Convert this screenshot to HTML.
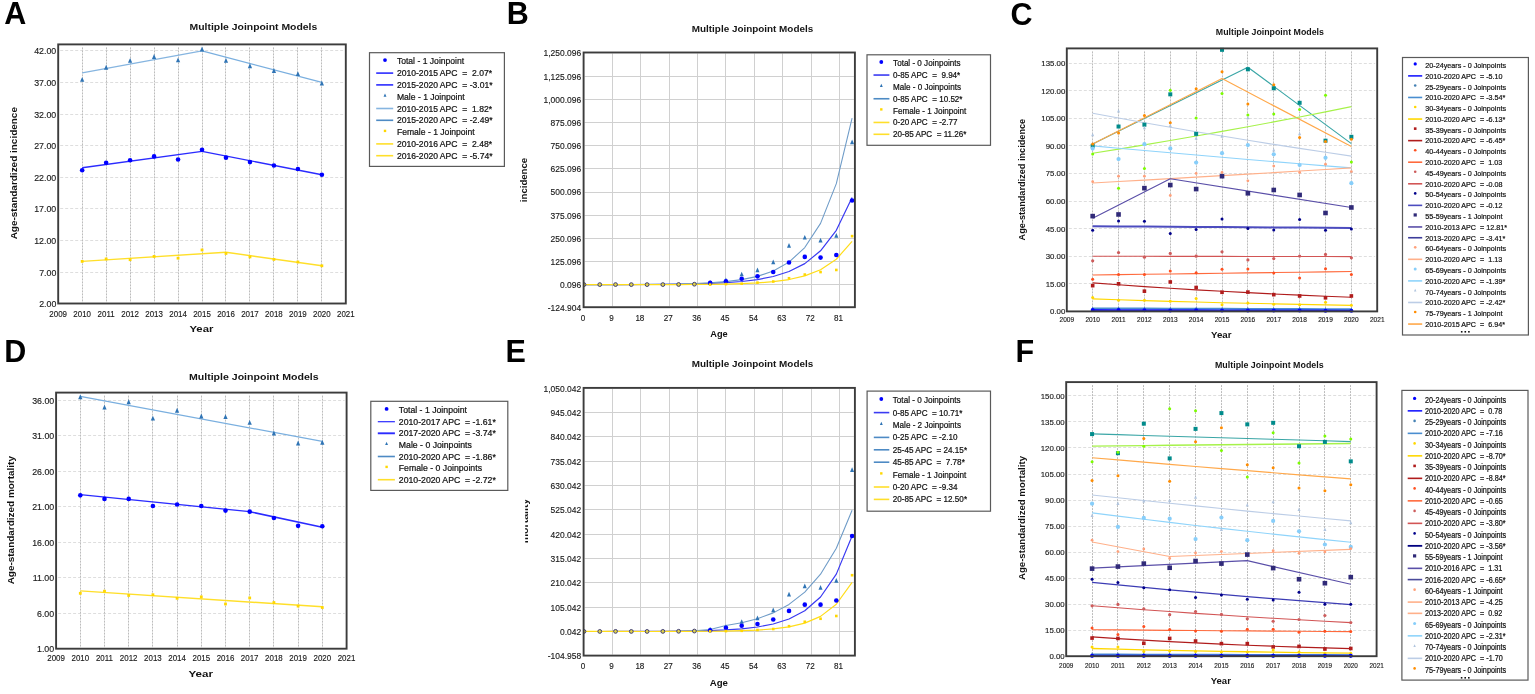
<!DOCTYPE html>
<html><head><meta charset="utf-8"><title>Multiple Joinpoint Models</title>
<style>html,body{margin:0;padding:0;background:#fff;}svg{display:block;}text{font-family:"Liberation Sans",Arial,sans-serif;}</style>
</head><body>
<svg width="1535" height="694" viewBox="0 0 1535 694" font-family="'Liberation Sans', Arial, sans-serif">
<defs>
<clipPath id="clipA"><rect x="58.20" y="40.40" width="287.60" height="267.10"/></clipPath>
<clipPath id="clipB"><rect x="583.60" y="48.50" width="271.30" height="262.70"/></clipPath>
<clipPath id="clipC"><rect x="1066.80" y="44.40" width="310.40" height="271.00"/></clipPath>
<clipPath id="clipD"><rect x="56.10" y="388.60" width="290.50" height="264.10"/></clipPath>
<clipPath id="clipE"><rect x="583.60" y="383.90" width="271.30" height="275.70"/></clipPath>
<clipPath id="clipF"><rect x="1066.20" y="378.10" width="310.40" height="282.10"/></clipPath>
<clipPath id="yclipE"><rect x="525.2" y="480" width="20" height="90"/></clipPath>
</defs>
<rect width="1535" height="694" fill="none"/>
<text x="4.20" y="24.40" font-size="30.50" font-weight="bold" text-anchor="start" fill="#000">A</text>
<text x="189.60" y="30.30" font-size="8.60" font-weight="bold" text-anchor="start" fill="#151515" textLength="127.70" lengthAdjust="spacingAndGlyphs">Multiple Joinpoint Models</text>
<line x1="60.20" y1="272.50" x2="343.80" y2="272.50" stroke="#dedede" stroke-width="1.00" stroke-dasharray="3,2"/>
<line x1="60.20" y1="240.50" x2="343.80" y2="240.50" stroke="#dedede" stroke-width="1.00" stroke-dasharray="3,2"/>
<line x1="60.20" y1="208.50" x2="343.80" y2="208.50" stroke="#dedede" stroke-width="1.00" stroke-dasharray="3,2"/>
<line x1="60.20" y1="177.50" x2="343.80" y2="177.50" stroke="#dedede" stroke-width="1.00" stroke-dasharray="3,2"/>
<line x1="60.20" y1="145.50" x2="343.80" y2="145.50" stroke="#dedede" stroke-width="1.00" stroke-dasharray="3,2"/>
<line x1="60.20" y1="114.50" x2="343.80" y2="114.50" stroke="#dedede" stroke-width="1.00" stroke-dasharray="3,2"/>
<line x1="60.20" y1="82.50" x2="343.80" y2="82.50" stroke="#dedede" stroke-width="1.00" stroke-dasharray="3,2"/>
<line x1="60.20" y1="50.50" x2="343.80" y2="50.50" stroke="#dedede" stroke-width="1.00" stroke-dasharray="3,2"/>
<line x1="82.50" y1="47.40" x2="82.50" y2="302.50" stroke="#bcbcbc" stroke-width="1.00" stroke-dasharray="2,1"/>
<line x1="106.50" y1="47.40" x2="106.50" y2="302.50" stroke="#bcbcbc" stroke-width="1.00" stroke-dasharray="2,1"/>
<line x1="130.50" y1="47.40" x2="130.50" y2="302.50" stroke="#bcbcbc" stroke-width="1.00" stroke-dasharray="2,1"/>
<line x1="154.50" y1="47.40" x2="154.50" y2="302.50" stroke="#bcbcbc" stroke-width="1.00" stroke-dasharray="2,1"/>
<line x1="178.50" y1="47.40" x2="178.50" y2="302.50" stroke="#bcbcbc" stroke-width="1.00" stroke-dasharray="2,1"/>
<line x1="202.50" y1="47.40" x2="202.50" y2="302.50" stroke="#bcbcbc" stroke-width="1.00" stroke-dasharray="2,1"/>
<line x1="225.50" y1="47.40" x2="225.50" y2="302.50" stroke="#bcbcbc" stroke-width="1.00" stroke-dasharray="2,1"/>
<line x1="249.50" y1="47.40" x2="249.50" y2="302.50" stroke="#bcbcbc" stroke-width="1.00" stroke-dasharray="2,1"/>
<line x1="273.50" y1="47.40" x2="273.50" y2="302.50" stroke="#bcbcbc" stroke-width="1.00" stroke-dasharray="2,1"/>
<line x1="297.50" y1="47.40" x2="297.50" y2="302.50" stroke="#bcbcbc" stroke-width="1.00" stroke-dasharray="2,1"/>
<line x1="321.50" y1="47.40" x2="321.50" y2="302.50" stroke="#bcbcbc" stroke-width="1.00" stroke-dasharray="2,1"/>
<g clip-path="url(#clipA)">
<polyline points="82.17,72.93 202.02,50.80" fill="none" stroke="#86b5e0" stroke-width="1.20" stroke-linejoin="round"/>
<polyline points="202.02,50.80 321.87,82.41" fill="none" stroke="#7aafdf" stroke-width="1.20" stroke-linejoin="round"/>
<polyline points="82.17,167.77 202.02,151.33" fill="none" stroke="#2b2bff" stroke-width="1.40" stroke-linejoin="round"/>
<polyline points="202.02,151.33 321.87,174.72" fill="none" stroke="#2b2bff" stroke-width="1.40" stroke-linejoin="round"/>
<polyline points="82.17,261.34 225.99,252.23" fill="none" stroke="#ffdf2a" stroke-width="1.40" stroke-linejoin="round"/>
<polyline points="225.99,252.23 321.87,265.76" fill="none" stroke="#ffdf2a" stroke-width="1.40" stroke-linejoin="round"/>
<path d="M82.17 76.88L84.30 81.76L80.05 81.76Z" fill="#2f74b5"/>
<path d="M106.14 64.87L108.27 69.75L104.02 69.75Z" fill="#2f74b5"/>
<path d="M130.11 57.92L132.24 62.79L127.99 62.79Z" fill="#2f74b5"/>
<path d="M154.08 54.12L156.20 59.00L151.95 59.00Z" fill="#2f74b5"/>
<path d="M178.05 57.47L180.18 62.35L175.93 62.35Z" fill="#2f74b5"/>
<path d="M202.02 46.54L204.14 51.41L199.89 51.41Z" fill="#2f74b5"/>
<path d="M225.99 57.92L228.12 62.79L223.87 62.79Z" fill="#2f74b5"/>
<path d="M249.96 63.29L252.08 68.17L247.83 68.17Z" fill="#2f74b5"/>
<path d="M273.93 68.03L276.06 72.91L271.81 72.91Z" fill="#2f74b5"/>
<path d="M297.90 71.19L300.02 76.07L295.77 76.07Z" fill="#2f74b5"/>
<path d="M321.87 80.68L323.99 85.55L319.74 85.55Z" fill="#2f74b5"/>
<circle cx="82.17" cy="170.30" r="2.30" fill="#0000ff"/>
<circle cx="106.14" cy="162.71" r="2.30" fill="#0000ff"/>
<circle cx="130.11" cy="160.18" r="2.30" fill="#0000ff"/>
<circle cx="154.08" cy="156.39" r="2.30" fill="#0000ff"/>
<circle cx="178.05" cy="159.55" r="2.30" fill="#0000ff"/>
<circle cx="202.02" cy="149.75" r="2.30" fill="#0000ff"/>
<circle cx="225.99" cy="157.65" r="2.30" fill="#0000ff"/>
<circle cx="249.96" cy="162.08" r="2.30" fill="#0000ff"/>
<circle cx="273.93" cy="165.55" r="2.30" fill="#0000ff"/>
<circle cx="297.90" cy="169.03" r="2.30" fill="#0000ff"/>
<circle cx="321.87" cy="174.72" r="2.30" fill="#0000ff"/>
<rect x="80.77" y="260.00" width="2.80" height="2.80" fill="#ffd700"/>
<rect x="104.74" y="257.54" width="2.80" height="2.80" fill="#ffd700"/>
<rect x="128.71" y="258.30" width="2.80" height="2.80" fill="#ffd700"/>
<rect x="152.68" y="255.01" width="2.80" height="2.80" fill="#ffd700"/>
<rect x="176.65" y="256.78" width="2.80" height="2.80" fill="#ffd700"/>
<rect x="200.62" y="248.56" width="2.80" height="2.80" fill="#ffd700"/>
<rect x="224.59" y="252.04" width="2.80" height="2.80" fill="#ffd700"/>
<rect x="248.56" y="255.51" width="2.80" height="2.80" fill="#ffd700"/>
<rect x="272.53" y="258.04" width="2.80" height="2.80" fill="#ffd700"/>
<rect x="296.50" y="260.57" width="2.80" height="2.80" fill="#ffd700"/>
<rect x="320.47" y="264.37" width="2.80" height="2.80" fill="#ffd700"/>
</g>
<rect x="58.20" y="44.40" width="287.60" height="259.10" fill="none" stroke="#3c3c3c" stroke-width="1.90"/>
<text x="56.30" y="307.23" font-size="9.80" text-anchor="end" fill="#1a1a1a" textLength="17.17" lengthAdjust="spacingAndGlyphs" stroke="#1a1a1a" stroke-width="0.15">2.00</text>
<text x="56.30" y="275.62" font-size="9.80" text-anchor="end" fill="#1a1a1a" textLength="17.17" lengthAdjust="spacingAndGlyphs" stroke="#1a1a1a" stroke-width="0.15">7.00</text>
<text x="56.30" y="244.00" font-size="9.80" text-anchor="end" fill="#1a1a1a" textLength="22.07" lengthAdjust="spacingAndGlyphs" stroke="#1a1a1a" stroke-width="0.15">12.00</text>
<text x="56.30" y="212.39" font-size="9.80" text-anchor="end" fill="#1a1a1a" textLength="22.07" lengthAdjust="spacingAndGlyphs" stroke="#1a1a1a" stroke-width="0.15">17.00</text>
<text x="56.30" y="180.78" font-size="9.80" text-anchor="end" fill="#1a1a1a" textLength="22.07" lengthAdjust="spacingAndGlyphs" stroke="#1a1a1a" stroke-width="0.15">22.00</text>
<text x="56.30" y="149.17" font-size="9.80" text-anchor="end" fill="#1a1a1a" textLength="22.07" lengthAdjust="spacingAndGlyphs" stroke="#1a1a1a" stroke-width="0.15">27.00</text>
<text x="56.30" y="117.55" font-size="9.80" text-anchor="end" fill="#1a1a1a" textLength="22.07" lengthAdjust="spacingAndGlyphs" stroke="#1a1a1a" stroke-width="0.15">32.00</text>
<text x="56.30" y="85.94" font-size="9.80" text-anchor="end" fill="#1a1a1a" textLength="22.07" lengthAdjust="spacingAndGlyphs" stroke="#1a1a1a" stroke-width="0.15">37.00</text>
<text x="56.30" y="54.33" font-size="9.80" text-anchor="end" fill="#1a1a1a" textLength="22.07" lengthAdjust="spacingAndGlyphs" stroke="#1a1a1a" stroke-width="0.15">42.00</text>
<text x="58.20" y="317.20" font-size="9.80" text-anchor="middle" fill="#1a1a1a" textLength="17.66" lengthAdjust="spacingAndGlyphs" stroke="#1a1a1a" stroke-width="0.15">2009</text>
<text x="82.17" y="317.20" font-size="9.80" text-anchor="middle" fill="#1a1a1a" textLength="17.66" lengthAdjust="spacingAndGlyphs" stroke="#1a1a1a" stroke-width="0.15">2010</text>
<text x="106.14" y="317.20" font-size="9.80" text-anchor="middle" fill="#1a1a1a" textLength="17.07" lengthAdjust="spacingAndGlyphs" stroke="#1a1a1a" stroke-width="0.15">2011</text>
<text x="130.11" y="317.20" font-size="9.80" text-anchor="middle" fill="#1a1a1a" textLength="17.66" lengthAdjust="spacingAndGlyphs" stroke="#1a1a1a" stroke-width="0.15">2012</text>
<text x="154.08" y="317.20" font-size="9.80" text-anchor="middle" fill="#1a1a1a" textLength="17.66" lengthAdjust="spacingAndGlyphs" stroke="#1a1a1a" stroke-width="0.15">2013</text>
<text x="178.05" y="317.20" font-size="9.80" text-anchor="middle" fill="#1a1a1a" textLength="17.66" lengthAdjust="spacingAndGlyphs" stroke="#1a1a1a" stroke-width="0.15">2014</text>
<text x="202.02" y="317.20" font-size="9.80" text-anchor="middle" fill="#1a1a1a" textLength="17.66" lengthAdjust="spacingAndGlyphs" stroke="#1a1a1a" stroke-width="0.15">2015</text>
<text x="225.99" y="317.20" font-size="9.80" text-anchor="middle" fill="#1a1a1a" textLength="17.66" lengthAdjust="spacingAndGlyphs" stroke="#1a1a1a" stroke-width="0.15">2016</text>
<text x="249.96" y="317.20" font-size="9.80" text-anchor="middle" fill="#1a1a1a" textLength="17.66" lengthAdjust="spacingAndGlyphs" stroke="#1a1a1a" stroke-width="0.15">2017</text>
<text x="273.93" y="317.20" font-size="9.80" text-anchor="middle" fill="#1a1a1a" textLength="17.66" lengthAdjust="spacingAndGlyphs" stroke="#1a1a1a" stroke-width="0.15">2018</text>
<text x="297.90" y="317.20" font-size="9.80" text-anchor="middle" fill="#1a1a1a" textLength="17.66" lengthAdjust="spacingAndGlyphs" stroke="#1a1a1a" stroke-width="0.15">2019</text>
<text x="321.87" y="317.20" font-size="9.80" text-anchor="middle" fill="#1a1a1a" textLength="17.66" lengthAdjust="spacingAndGlyphs" stroke="#1a1a1a" stroke-width="0.15">2020</text>
<text x="345.84" y="317.20" font-size="9.80" text-anchor="middle" fill="#1a1a1a" textLength="17.66" lengthAdjust="spacingAndGlyphs" stroke="#1a1a1a" stroke-width="0.15">2021</text>
<text x="201.40" y="332.20" font-size="9.30" font-weight="bold" text-anchor="middle" fill="#111" textLength="23.90" lengthAdjust="spacingAndGlyphs">Year</text>
<text x="0.00" y="0.00" font-size="8.30" font-weight="bold" text-anchor="middle" fill="#111" textLength="132.30" lengthAdjust="spacingAndGlyphs" transform="translate(17.10,173.20) rotate(-90)">Age-standardized incidence</text>
<rect x="369.50" y="52.70" width="134.90" height="113.70" fill="#fff" stroke="#5a5a5a" stroke-width="1.2"/>
<circle cx="385.00" cy="60.10" r="1.90" fill="#0000ff"/>
<text x="396.90" y="64.38" font-size="8.80" text-anchor="start" fill="#111" textLength="67.30" lengthAdjust="spacingAndGlyphs" style="white-space:pre" stroke="#111" stroke-width="0.22">Total - 1 Joinpoint</text>
<line x1="376.20" y1="73.10" x2="393.20" y2="73.10" stroke="#2b2bff" stroke-width="1.60"/>
<text x="396.90" y="76.18" font-size="8.80" text-anchor="start" fill="#111" textLength="95.24" lengthAdjust="spacingAndGlyphs" style="white-space:pre" stroke="#111" stroke-width="0.22">2010-2015 APC  =  2.07*</text>
<line x1="376.20" y1="84.90" x2="393.20" y2="84.90" stroke="#2b2bff" stroke-width="1.60"/>
<text x="396.90" y="87.98" font-size="8.80" text-anchor="start" fill="#111" textLength="95.71" lengthAdjust="spacingAndGlyphs" style="white-space:pre" stroke="#111" stroke-width="0.22">2015-2020 APC  = -3.01*</text>
<path d="M385.00 93.46L386.44 96.78L383.56 96.78Z" fill="#2f74b5"/>
<text x="396.90" y="99.78" font-size="8.80" text-anchor="start" fill="#111" textLength="67.77" lengthAdjust="spacingAndGlyphs" style="white-space:pre" stroke="#111" stroke-width="0.22">Male - 1 Joinpoint</text>
<line x1="376.20" y1="108.50" x2="393.20" y2="108.50" stroke="#86b5e0" stroke-width="1.60"/>
<text x="396.90" y="111.58" font-size="8.80" text-anchor="start" fill="#111" textLength="95.24" lengthAdjust="spacingAndGlyphs" style="white-space:pre" stroke="#111" stroke-width="0.22">2010-2015 APC  =  1.82*</text>
<line x1="376.20" y1="120.30" x2="393.20" y2="120.30" stroke="#4d8ac4" stroke-width="1.60"/>
<text x="396.90" y="123.38" font-size="8.80" text-anchor="start" fill="#111" textLength="95.71" lengthAdjust="spacingAndGlyphs" style="white-space:pre" stroke="#111" stroke-width="0.22">2015-2020 APC  = -2.49*</text>
<rect x="383.80" y="129.70" width="2.40" height="2.40" fill="#ffd700"/>
<text x="396.90" y="135.18" font-size="8.80" text-anchor="start" fill="#111" textLength="77.79" lengthAdjust="spacingAndGlyphs" style="white-space:pre" stroke="#111" stroke-width="0.22">Female - 1 Joinpoint</text>
<line x1="376.20" y1="143.90" x2="393.20" y2="143.90" stroke="#ffdf2a" stroke-width="1.60"/>
<text x="396.90" y="146.98" font-size="8.80" text-anchor="start" fill="#111" textLength="95.24" lengthAdjust="spacingAndGlyphs" style="white-space:pre" stroke="#111" stroke-width="0.22">2010-2016 APC  =  2.48*</text>
<line x1="376.20" y1="155.70" x2="393.20" y2="155.70" stroke="#ffdf2a" stroke-width="1.60"/>
<text x="396.90" y="158.78" font-size="8.80" text-anchor="start" fill="#111" textLength="95.71" lengthAdjust="spacingAndGlyphs" style="white-space:pre" stroke="#111" stroke-width="0.22">2016-2020 APC  = -5.74*</text>
<text x="506.80" y="24.40" font-size="30.50" font-weight="bold" text-anchor="start" fill="#000">B</text>
<text x="691.80" y="31.90" font-size="8.60" font-weight="bold" text-anchor="start" fill="#151515" textLength="121.40" lengthAdjust="spacingAndGlyphs">Multiple Joinpoint Models</text>
<line x1="584.60" y1="284.50" x2="853.90" y2="284.50" stroke="#d0d0d0" stroke-width="1.00"/>
<line x1="584.60" y1="261.50" x2="853.90" y2="261.50" stroke="#d0d0d0" stroke-width="1.00"/>
<line x1="584.60" y1="238.50" x2="853.90" y2="238.50" stroke="#d0d0d0" stroke-width="1.00"/>
<line x1="584.60" y1="215.50" x2="853.90" y2="215.50" stroke="#d0d0d0" stroke-width="1.00"/>
<line x1="584.60" y1="192.50" x2="853.90" y2="192.50" stroke="#d0d0d0" stroke-width="1.00"/>
<line x1="584.60" y1="168.50" x2="853.90" y2="168.50" stroke="#d0d0d0" stroke-width="1.00"/>
<line x1="584.60" y1="145.50" x2="853.90" y2="145.50" stroke="#d0d0d0" stroke-width="1.00"/>
<line x1="584.60" y1="122.50" x2="853.90" y2="122.50" stroke="#d0d0d0" stroke-width="1.00"/>
<line x1="584.60" y1="99.50" x2="853.90" y2="99.50" stroke="#d0d0d0" stroke-width="1.00"/>
<line x1="584.60" y1="76.50" x2="853.90" y2="76.50" stroke="#d0d0d0" stroke-width="1.00"/>
<line x1="612.50" y1="53.50" x2="612.50" y2="306.20" stroke="#d0d0d0" stroke-width="1.00"/>
<line x1="640.50" y1="53.50" x2="640.50" y2="306.20" stroke="#d0d0d0" stroke-width="1.00"/>
<line x1="669.50" y1="53.50" x2="669.50" y2="306.20" stroke="#d0d0d0" stroke-width="1.00"/>
<line x1="697.50" y1="53.50" x2="697.50" y2="306.20" stroke="#d0d0d0" stroke-width="1.00"/>
<line x1="725.50" y1="53.50" x2="725.50" y2="306.20" stroke="#d0d0d0" stroke-width="1.00"/>
<line x1="754.50" y1="53.50" x2="754.50" y2="306.20" stroke="#d0d0d0" stroke-width="1.00"/>
<line x1="782.50" y1="53.50" x2="782.50" y2="306.20" stroke="#d0d0d0" stroke-width="1.00"/>
<line x1="811.50" y1="53.50" x2="811.50" y2="306.20" stroke="#d0d0d0" stroke-width="1.00"/>
<line x1="839.50" y1="53.50" x2="839.50" y2="306.20" stroke="#d0d0d0" stroke-width="1.00"/>
<g clip-path="url(#clipB)">
<polyline points="584.00,284.64 599.77,284.62 615.54,284.60 631.31,284.55 647.08,284.48 662.85,284.37 678.62,284.19 694.39,283.90 710.16,283.44 725.93,282.70 741.70,281.50 757.47,279.58 773.24,276.50 789.01,271.55 804.78,263.60 820.55,250.84 836.32,230.34 852.09,197.42" fill="none" stroke="#3a3af2" stroke-width="1.20" stroke-linejoin="round"/>
<polyline points="584.00,284.63 599.77,284.61 615.54,284.58 631.31,284.52 647.08,284.42 662.85,284.26 678.62,283.99 694.39,283.55 710.16,282.82 725.93,281.62 741.70,279.64 757.47,276.38 773.24,271.01 789.01,262.14 804.78,247.53 820.55,223.42 836.32,183.67 852.09,118.13" fill="none" stroke="#6f9cc8" stroke-width="1.10" stroke-linejoin="round"/>
<polyline points="584.00,284.61 599.77,284.61 615.54,284.61 631.31,284.61 647.08,284.63 662.85,284.60 678.62,284.55 694.39,284.46 710.16,284.31 725.93,284.06 741.70,283.63 757.47,282.90 773.24,281.66 789.01,279.54 804.78,275.92 820.55,269.76 836.32,259.24 852.09,241.32" fill="none" stroke="#ffdd1a" stroke-width="1.20" stroke-linejoin="round"/>
<path d="M710.16 279.99L712.20 284.67L708.12 284.67Z" fill="#2f74b5"/>
<path d="M725.93 277.53L727.97 282.21L723.89 282.21Z" fill="#2f74b5"/>
<path d="M741.70 271.69L743.74 276.37L739.66 276.37Z" fill="#2f74b5"/>
<path d="M757.47 267.58L759.51 272.26L755.43 272.26Z" fill="#2f74b5"/>
<path d="M773.24 259.56L775.28 264.24L771.20 264.24Z" fill="#2f74b5"/>
<path d="M789.01 243.07L791.05 247.75L786.97 247.75Z" fill="#2f74b5"/>
<path d="M804.78 234.92L806.82 239.60L802.74 239.60Z" fill="#2f74b5"/>
<path d="M820.55 237.70L822.59 242.38L818.51 242.38Z" fill="#2f74b5"/>
<path d="M836.32 233.07L838.36 237.75L834.28 237.75Z" fill="#2f74b5"/>
<path d="M852.09 139.52L854.13 144.20L850.05 144.20Z" fill="#2f74b5"/>
<circle cx="710.16" cy="282.87" r="2.30" fill="#0000ff"/>
<circle cx="725.93" cy="281.33" r="2.30" fill="#0000ff"/>
<circle cx="741.70" cy="278.74" r="2.30" fill="#0000ff"/>
<circle cx="757.47" cy="276.33" r="2.30" fill="#0000ff"/>
<circle cx="773.24" cy="272.07" r="2.30" fill="#0000ff"/>
<circle cx="789.01" cy="262.44" r="2.30" fill="#0000ff"/>
<circle cx="804.78" cy="256.88" r="2.30" fill="#0000ff"/>
<circle cx="820.55" cy="257.62" r="2.30" fill="#0000ff"/>
<circle cx="836.32" cy="255.03" r="2.30" fill="#0000ff"/>
<circle cx="852.09" cy="200.56" r="2.30" fill="#0000ff"/>
<rect x="708.86" y="283.28" width="2.60" height="2.60" fill="#ffd700"/>
<rect x="724.63" y="282.81" width="2.60" height="2.60" fill="#ffd700"/>
<rect x="740.40" y="282.37" width="2.60" height="2.60" fill="#ffd700"/>
<rect x="756.17" y="281.33" width="2.60" height="2.60" fill="#ffd700"/>
<rect x="771.94" y="280.22" width="2.60" height="2.60" fill="#ffd700"/>
<rect x="787.71" y="276.96" width="2.60" height="2.60" fill="#ffd700"/>
<rect x="803.48" y="273.27" width="2.60" height="2.60" fill="#ffd700"/>
<rect x="819.25" y="270.77" width="2.60" height="2.60" fill="#ffd700"/>
<rect x="835.02" y="268.66" width="2.60" height="2.60" fill="#ffd700"/>
<rect x="850.79" y="234.83" width="2.60" height="2.60" fill="#ffd700"/>
<circle cx="584.00" cy="284.61" r="1.90" fill="#e0d24a" stroke="#40407a" stroke-width="1.0"/>
<circle cx="599.77" cy="284.61" r="1.90" fill="#e0d24a" stroke="#40407a" stroke-width="1.0"/>
<circle cx="615.54" cy="284.56" r="1.90" fill="#e0d24a" stroke="#40407a" stroke-width="1.0"/>
<circle cx="631.31" cy="284.61" r="1.90" fill="#e0d24a" stroke="#40407a" stroke-width="1.0"/>
<circle cx="647.08" cy="284.61" r="1.90" fill="#e0d24a" stroke="#40407a" stroke-width="1.0"/>
<circle cx="662.85" cy="284.58" r="1.90" fill="#e0d24a" stroke="#40407a" stroke-width="1.0"/>
<circle cx="678.62" cy="284.48" r="1.90" fill="#e0d24a" stroke="#40407a" stroke-width="1.0"/>
<circle cx="694.39" cy="284.20" r="1.90" fill="#e0d24a" stroke="#40407a" stroke-width="1.0"/>
</g>
<rect x="583.60" y="52.50" width="271.30" height="254.70" fill="none" stroke="#3c3c3c" stroke-width="1.90"/>
<text x="581.20" y="311.19" font-size="9.40" text-anchor="end" fill="#1a1a1a" textLength="33.40" lengthAdjust="spacingAndGlyphs" stroke="#1a1a1a" stroke-width="0.15">-124.904</text>
<text x="581.20" y="288.03" font-size="9.40" text-anchor="end" fill="#1a1a1a" textLength="21.17" lengthAdjust="spacingAndGlyphs" stroke="#1a1a1a" stroke-width="0.15">0.096</text>
<text x="581.20" y="264.88" font-size="9.40" text-anchor="end" fill="#1a1a1a" textLength="30.58" lengthAdjust="spacingAndGlyphs" stroke="#1a1a1a" stroke-width="0.15">125.096</text>
<text x="581.20" y="241.72" font-size="9.40" text-anchor="end" fill="#1a1a1a" textLength="30.58" lengthAdjust="spacingAndGlyphs" stroke="#1a1a1a" stroke-width="0.15">250.096</text>
<text x="581.20" y="218.57" font-size="9.40" text-anchor="end" fill="#1a1a1a" textLength="30.58" lengthAdjust="spacingAndGlyphs" stroke="#1a1a1a" stroke-width="0.15">375.096</text>
<text x="581.20" y="195.41" font-size="9.40" text-anchor="end" fill="#1a1a1a" textLength="30.58" lengthAdjust="spacingAndGlyphs" stroke="#1a1a1a" stroke-width="0.15">500.096</text>
<text x="581.20" y="172.25" font-size="9.40" text-anchor="end" fill="#1a1a1a" textLength="30.58" lengthAdjust="spacingAndGlyphs" stroke="#1a1a1a" stroke-width="0.15">625.096</text>
<text x="581.20" y="149.10" font-size="9.40" text-anchor="end" fill="#1a1a1a" textLength="30.58" lengthAdjust="spacingAndGlyphs" stroke="#1a1a1a" stroke-width="0.15">750.096</text>
<text x="581.20" y="125.94" font-size="9.40" text-anchor="end" fill="#1a1a1a" textLength="30.58" lengthAdjust="spacingAndGlyphs" stroke="#1a1a1a" stroke-width="0.15">875.096</text>
<text x="581.20" y="102.78" font-size="9.40" text-anchor="end" fill="#1a1a1a" textLength="37.64" lengthAdjust="spacingAndGlyphs" stroke="#1a1a1a" stroke-width="0.15">1,000.096</text>
<text x="581.20" y="79.63" font-size="9.40" text-anchor="end" fill="#1a1a1a" textLength="37.64" lengthAdjust="spacingAndGlyphs" stroke="#1a1a1a" stroke-width="0.15">1,125.096</text>
<text x="581.20" y="56.47" font-size="9.40" text-anchor="end" fill="#1a1a1a" textLength="37.64" lengthAdjust="spacingAndGlyphs" stroke="#1a1a1a" stroke-width="0.15">1,250.096</text>
<text x="583.10" y="320.80" font-size="9.40" text-anchor="middle" fill="#1a1a1a" textLength="4.50" lengthAdjust="spacingAndGlyphs" stroke="#1a1a1a" stroke-width="0.15">0</text>
<text x="611.49" y="320.80" font-size="9.40" text-anchor="middle" fill="#1a1a1a" textLength="4.50" lengthAdjust="spacingAndGlyphs" stroke="#1a1a1a" stroke-width="0.15">9</text>
<text x="639.87" y="320.80" font-size="9.40" text-anchor="middle" fill="#1a1a1a" textLength="8.99" lengthAdjust="spacingAndGlyphs" stroke="#1a1a1a" stroke-width="0.15">18</text>
<text x="668.26" y="320.80" font-size="9.40" text-anchor="middle" fill="#1a1a1a" textLength="8.99" lengthAdjust="spacingAndGlyphs" stroke="#1a1a1a" stroke-width="0.15">27</text>
<text x="696.64" y="320.80" font-size="9.40" text-anchor="middle" fill="#1a1a1a" textLength="8.99" lengthAdjust="spacingAndGlyphs" stroke="#1a1a1a" stroke-width="0.15">36</text>
<text x="725.03" y="320.80" font-size="9.40" text-anchor="middle" fill="#1a1a1a" textLength="8.99" lengthAdjust="spacingAndGlyphs" stroke="#1a1a1a" stroke-width="0.15">45</text>
<text x="753.42" y="320.80" font-size="9.40" text-anchor="middle" fill="#1a1a1a" textLength="8.99" lengthAdjust="spacingAndGlyphs" stroke="#1a1a1a" stroke-width="0.15">54</text>
<text x="781.80" y="320.80" font-size="9.40" text-anchor="middle" fill="#1a1a1a" textLength="8.99" lengthAdjust="spacingAndGlyphs" stroke="#1a1a1a" stroke-width="0.15">63</text>
<text x="810.19" y="320.80" font-size="9.40" text-anchor="middle" fill="#1a1a1a" textLength="8.99" lengthAdjust="spacingAndGlyphs" stroke="#1a1a1a" stroke-width="0.15">72</text>
<text x="838.57" y="320.80" font-size="9.40" text-anchor="middle" fill="#1a1a1a" textLength="8.99" lengthAdjust="spacingAndGlyphs" stroke="#1a1a1a" stroke-width="0.15">81</text>
<text x="719.00" y="336.60" font-size="9.30" font-weight="bold" text-anchor="middle" fill="#111" textLength="17.40" lengthAdjust="spacingAndGlyphs">Age</text>
<text x="0.00" y="0.00" font-size="8.80" font-weight="bold" text-anchor="middle" fill="#111" textLength="44.30" lengthAdjust="spacingAndGlyphs" transform="translate(527.40,180.00) rotate(-90)">incidence</text>
<rect x="867.00" y="54.80" width="123.50" height="90.50" fill="#fff" stroke="#5a5a5a" stroke-width="1.2"/>
<circle cx="881.30" cy="62.00" r="1.90" fill="#0000ff"/>
<text x="893.10" y="66.21" font-size="8.60" text-anchor="start" fill="#111" textLength="67.40" lengthAdjust="spacingAndGlyphs" style="white-space:pre" stroke="#111" stroke-width="0.22">Total - 0 Joinpoints</text>
<line x1="873.50" y1="75.05" x2="889.40" y2="75.05" stroke="#3a3af2" stroke-width="1.60"/>
<text x="893.10" y="78.06" font-size="8.60" text-anchor="start" fill="#111" textLength="67.18" lengthAdjust="spacingAndGlyphs" style="white-space:pre" stroke="#111" stroke-width="0.22">0-85 APC  =  9.94*</text>
<path d="M881.30 83.66L882.75 86.98L879.85 86.98Z" fill="#2f74b5"/>
<text x="893.10" y="89.91" font-size="8.60" text-anchor="start" fill="#111" textLength="67.85" lengthAdjust="spacingAndGlyphs" style="white-space:pre" stroke="#111" stroke-width="0.22">Male - 0 Joinpoints</text>
<line x1="873.50" y1="98.75" x2="889.40" y2="98.75" stroke="#4d8ac4" stroke-width="1.60"/>
<text x="893.10" y="101.76" font-size="8.60" text-anchor="start" fill="#111" textLength="69.43" lengthAdjust="spacingAndGlyphs" style="white-space:pre" stroke="#111" stroke-width="0.22">0-85 APC  = 10.52*</text>
<rect x="880.10" y="108.20" width="2.40" height="2.40" fill="#ffd700"/>
<text x="893.10" y="113.61" font-size="8.60" text-anchor="start" fill="#111" textLength="73.24" lengthAdjust="spacingAndGlyphs" style="white-space:pre" stroke="#111" stroke-width="0.22">Female - 1 Joinpoint</text>
<line x1="873.50" y1="122.45" x2="889.40" y2="122.45" stroke="#ffdf2a" stroke-width="1.60"/>
<text x="893.10" y="125.46" font-size="8.60" text-anchor="start" fill="#111" textLength="64.48" lengthAdjust="spacingAndGlyphs" style="white-space:pre" stroke="#111" stroke-width="0.22">0-20 APC  = -2.77</text>
<line x1="873.50" y1="134.30" x2="889.40" y2="134.30" stroke="#ffdf2a" stroke-width="1.60"/>
<text x="893.10" y="137.31" font-size="8.60" text-anchor="start" fill="#111" textLength="73.33" lengthAdjust="spacingAndGlyphs" style="white-space:pre" stroke="#111" stroke-width="0.22">20-85 APC  = 11.26*</text>
<text x="1010.60" y="25.00" font-size="30.50" font-weight="bold" text-anchor="start" fill="#000">C</text>
<text x="1215.80" y="34.60" font-size="8.60" font-weight="bold" text-anchor="start" fill="#151515" textLength="108.10" lengthAdjust="spacingAndGlyphs">Multiple Joinpoint Models</text>
<line x1="1068.80" y1="283.50" x2="1375.20" y2="283.50" stroke="#dedede" stroke-width="1.00" stroke-dasharray="3,2"/>
<line x1="1068.80" y1="256.50" x2="1375.20" y2="256.50" stroke="#dedede" stroke-width="1.00" stroke-dasharray="3,2"/>
<line x1="1068.80" y1="228.50" x2="1375.20" y2="228.50" stroke="#dedede" stroke-width="1.00" stroke-dasharray="3,2"/>
<line x1="1068.80" y1="201.50" x2="1375.20" y2="201.50" stroke="#dedede" stroke-width="1.00" stroke-dasharray="3,2"/>
<line x1="1068.80" y1="173.50" x2="1375.20" y2="173.50" stroke="#dedede" stroke-width="1.00" stroke-dasharray="3,2"/>
<line x1="1068.80" y1="145.50" x2="1375.20" y2="145.50" stroke="#dedede" stroke-width="1.00" stroke-dasharray="3,2"/>
<line x1="1068.80" y1="118.50" x2="1375.20" y2="118.50" stroke="#dedede" stroke-width="1.00" stroke-dasharray="3,2"/>
<line x1="1068.80" y1="90.50" x2="1375.20" y2="90.50" stroke="#dedede" stroke-width="1.00" stroke-dasharray="3,2"/>
<line x1="1068.80" y1="63.50" x2="1375.20" y2="63.50" stroke="#dedede" stroke-width="1.00" stroke-dasharray="3,2"/>
<line x1="1092.50" y1="51.40" x2="1092.50" y2="310.40" stroke="#bcbcbc" stroke-width="1.00" stroke-dasharray="2,1"/>
<line x1="1118.50" y1="51.40" x2="1118.50" y2="310.40" stroke="#bcbcbc" stroke-width="1.00" stroke-dasharray="2,1"/>
<line x1="1144.50" y1="51.40" x2="1144.50" y2="310.40" stroke="#bcbcbc" stroke-width="1.00" stroke-dasharray="2,1"/>
<line x1="1170.50" y1="51.40" x2="1170.50" y2="310.40" stroke="#bcbcbc" stroke-width="1.00" stroke-dasharray="2,1"/>
<line x1="1196.50" y1="51.40" x2="1196.50" y2="310.40" stroke="#bcbcbc" stroke-width="1.00" stroke-dasharray="2,1"/>
<line x1="1222.50" y1="51.40" x2="1222.50" y2="310.40" stroke="#bcbcbc" stroke-width="1.00" stroke-dasharray="2,1"/>
<line x1="1247.50" y1="51.40" x2="1247.50" y2="310.40" stroke="#bcbcbc" stroke-width="1.00" stroke-dasharray="2,1"/>
<line x1="1273.50" y1="51.40" x2="1273.50" y2="310.40" stroke="#bcbcbc" stroke-width="1.00" stroke-dasharray="2,1"/>
<line x1="1299.50" y1="51.40" x2="1299.50" y2="310.40" stroke="#bcbcbc" stroke-width="1.00" stroke-dasharray="2,1"/>
<line x1="1325.50" y1="51.40" x2="1325.50" y2="310.40" stroke="#bcbcbc" stroke-width="1.00" stroke-dasharray="2,1"/>
<line x1="1351.50" y1="51.40" x2="1351.50" y2="310.40" stroke="#bcbcbc" stroke-width="1.00" stroke-dasharray="2,1"/>
<g clip-path="url(#clipC)">
<polyline points="1092.67,144.01 1247.89,67.30 1351.37,143.64" fill="none" stroke="#3aa6a6" stroke-width="1.15" stroke-linejoin="round"/>
<polyline points="1092.67,144.01 1222.02,78.52 1351.37,146.58" fill="none" stroke="#ffa84a" stroke-width="1.15" stroke-linejoin="round"/>
<polyline points="1092.67,153.20 1118.54,149.07 1144.41,144.83 1170.28,140.48 1196.15,136.01 1222.02,131.43 1247.89,126.73 1273.76,121.91 1299.63,116.96 1325.50,111.88 1351.37,106.66" fill="none" stroke="#a6f24a" stroke-width="1.15" stroke-linejoin="round"/>
<polyline points="1092.67,113.29 1118.54,118.06 1144.41,122.71 1170.28,127.26 1196.15,131.69 1222.02,136.02 1247.89,140.24 1273.76,144.37 1299.63,148.39 1325.50,152.31 1351.37,156.15" fill="none" stroke="#bccde6" stroke-width="1.10" stroke-linejoin="round"/>
<polyline points="1092.67,145.84 1118.54,148.20 1144.41,150.52 1170.28,152.80 1196.15,155.06 1222.02,157.28 1247.89,159.47 1273.76,161.63 1299.63,163.75 1325.50,165.85 1351.37,167.92" fill="none" stroke="#8fd4fb" stroke-width="1.10" stroke-linejoin="round"/>
<polyline points="1092.67,183.00 1118.54,181.57 1144.41,180.12 1170.28,178.65 1196.15,177.17 1222.02,175.67 1247.89,174.15 1273.76,172.62 1299.63,171.07 1325.50,169.50 1351.37,167.92" fill="none" stroke="#ffb08a" stroke-width="1.10" stroke-linejoin="round"/>
<polyline points="1092.67,218.14 1170.28,178.77 1351.37,207.47" fill="none" stroke="#5a4fa8" stroke-width="1.10" stroke-linejoin="round"/>
<polyline points="1092.67,226.23 1118.54,226.40 1144.41,226.56 1170.28,226.73 1196.15,226.90 1222.02,227.06 1247.89,227.23 1273.76,227.39 1299.63,227.56 1325.50,227.72 1351.37,227.89" fill="none" stroke="#4c4cbf" stroke-width="2.00" stroke-linejoin="round"/>
<polyline points="1092.67,256.21 1118.54,256.25 1144.41,256.29 1170.28,256.33 1196.15,256.36 1222.02,256.40 1247.89,256.44 1273.76,256.47 1299.63,256.51 1325.50,256.55 1351.37,256.58" fill="none" stroke="#d25555" stroke-width="1.10" stroke-linejoin="round"/>
<polyline points="1092.67,274.98 1118.54,274.64 1144.41,274.30 1170.28,273.96 1196.15,273.62 1222.02,273.27 1247.89,272.92 1273.76,272.57 1299.63,272.21 1325.50,271.85 1351.37,271.48" fill="none" stroke="#ff6a3d" stroke-width="1.10" stroke-linejoin="round"/>
<polyline points="1092.67,282.89 1118.54,284.81 1144.41,286.61 1170.28,288.29 1196.15,289.85 1222.02,291.30 1247.89,292.66 1273.76,293.93 1299.63,295.11 1325.50,296.21 1351.37,297.24" fill="none" stroke="#b01c1c" stroke-width="1.10" stroke-linejoin="round"/>
<polyline points="1092.67,298.89 1118.54,299.76 1144.41,300.58 1170.28,301.33 1196.15,302.03 1222.02,302.69 1247.89,303.29 1273.76,303.86 1299.63,304.39 1325.50,304.87 1351.37,305.33" fill="none" stroke="#ffd700" stroke-width="1.10" stroke-linejoin="round"/>
<polyline points="1092.67,308.46 1118.54,308.54 1144.41,308.62 1170.28,308.70 1196.15,308.78 1222.02,308.85 1247.89,308.92 1273.76,308.99 1299.63,309.06 1325.50,309.13 1351.37,309.19" fill="none" stroke="#4a8ed0" stroke-width="2.00" stroke-linejoin="round"/>
<polyline points="1092.67,310.11 1118.54,310.18 1144.41,310.25 1170.28,310.31 1196.15,310.37 1222.02,310.43 1247.89,310.48 1273.76,310.53 1299.63,310.58 1325.50,310.62 1351.37,310.66" fill="none" stroke="#1a1aff" stroke-width="2.00" stroke-linejoin="round"/>
<rect x="1090.67" y="143.84" width="4.00" height="4.00" fill="#008b8b"/>
<rect x="1116.54" y="124.53" width="4.00" height="4.00" fill="#008b8b"/>
<rect x="1142.41" y="122.69" width="4.00" height="4.00" fill="#008b8b"/>
<rect x="1168.28" y="92.34" width="4.00" height="4.00" fill="#008b8b"/>
<rect x="1194.15" y="131.89" width="4.00" height="4.00" fill="#008b8b"/>
<rect x="1220.02" y="47.82" width="4.00" height="4.00" fill="#008b8b"/>
<rect x="1245.89" y="67.32" width="4.00" height="4.00" fill="#008b8b"/>
<rect x="1271.76" y="86.27" width="4.00" height="4.00" fill="#008b8b"/>
<rect x="1297.63" y="100.80" width="4.00" height="4.00" fill="#008b8b"/>
<rect x="1323.50" y="138.69" width="4.00" height="4.00" fill="#008b8b"/>
<rect x="1349.37" y="134.83" width="4.00" height="4.00" fill="#008b8b"/>
<circle cx="1092.67" cy="144.01" r="1.50" fill="#ff8c00"/>
<circle cx="1118.54" cy="132.97" r="1.50" fill="#ff8c00"/>
<circle cx="1144.41" cy="115.49" r="1.50" fill="#ff8c00"/>
<circle cx="1170.28" cy="122.85" r="1.50" fill="#ff8c00"/>
<circle cx="1196.15" cy="88.82" r="1.50" fill="#ff8c00"/>
<circle cx="1222.02" cy="71.71" r="1.50" fill="#ff8c00"/>
<circle cx="1247.89" cy="103.90" r="1.50" fill="#ff8c00"/>
<circle cx="1273.76" cy="84.77" r="1.50" fill="#ff8c00"/>
<circle cx="1299.63" cy="137.38" r="1.50" fill="#ff8c00"/>
<circle cx="1325.50" cy="141.61" r="1.50" fill="#ff8c00"/>
<circle cx="1351.37" cy="139.22" r="1.50" fill="#ff8c00"/>
<circle cx="1092.67" cy="154.12" r="1.50" fill="#7cfc00"/>
<circle cx="1118.54" cy="188.15" r="1.50" fill="#7cfc00"/>
<circle cx="1144.41" cy="168.47" r="1.50" fill="#7cfc00"/>
<circle cx="1170.28" cy="90.29" r="1.50" fill="#7cfc00"/>
<circle cx="1196.15" cy="118.07" r="1.50" fill="#7cfc00"/>
<circle cx="1222.02" cy="93.60" r="1.50" fill="#7cfc00"/>
<circle cx="1247.89" cy="114.94" r="1.50" fill="#7cfc00"/>
<circle cx="1273.76" cy="114.02" r="1.50" fill="#7cfc00"/>
<circle cx="1299.63" cy="109.61" r="1.50" fill="#7cfc00"/>
<circle cx="1325.50" cy="95.26" r="1.50" fill="#7cfc00"/>
<circle cx="1351.37" cy="162.03" r="1.50" fill="#7cfc00"/>
<path d="M1092.67 132.83L1094.20 136.34L1091.14 136.34Z" fill="#b0c4de"/>
<path d="M1118.54 108.92L1120.07 112.43L1117.01 112.43Z" fill="#b0c4de"/>
<path d="M1144.41 125.84L1145.94 129.35L1142.88 129.35Z" fill="#b0c4de"/>
<path d="M1170.28 123.45L1171.81 126.96L1168.75 126.96Z" fill="#b0c4de"/>
<path d="M1196.15 136.14L1197.68 139.65L1194.62 139.65Z" fill="#b0c4de"/>
<path d="M1222.02 134.12L1223.55 137.63L1220.49 137.63Z" fill="#b0c4de"/>
<path d="M1247.89 115.72L1249.42 119.23L1246.36 119.23Z" fill="#b0c4de"/>
<path d="M1273.76 148.10L1275.29 151.61L1272.23 151.61Z" fill="#b0c4de"/>
<path d="M1299.63 131.73L1301.16 135.24L1298.10 135.24Z" fill="#b0c4de"/>
<path d="M1325.50 154.35L1327.03 157.86L1323.97 157.86Z" fill="#b0c4de"/>
<path d="M1351.37 169.44L1352.90 172.95L1349.84 172.95Z" fill="#b0c4de"/>
<circle cx="1092.67" cy="148.60" r="2.10" fill="#87cefa"/>
<circle cx="1118.54" cy="159.09" r="2.10" fill="#87cefa"/>
<circle cx="1144.41" cy="144.19" r="2.10" fill="#87cefa"/>
<circle cx="1170.28" cy="148.42" r="2.10" fill="#87cefa"/>
<circle cx="1196.15" cy="162.58" r="2.10" fill="#87cefa"/>
<circle cx="1222.02" cy="153.20" r="2.10" fill="#87cefa"/>
<circle cx="1247.89" cy="145.11" r="2.10" fill="#87cefa"/>
<circle cx="1273.76" cy="154.31" r="2.10" fill="#87cefa"/>
<circle cx="1299.63" cy="164.98" r="2.10" fill="#87cefa"/>
<circle cx="1325.50" cy="157.80" r="2.10" fill="#87cefa"/>
<circle cx="1351.37" cy="183.19" r="2.10" fill="#87cefa"/>
<circle cx="1092.67" cy="181.72" r="1.40" fill="#ffa07a"/>
<circle cx="1118.54" cy="176.20" r="1.40" fill="#ffa07a"/>
<circle cx="1144.41" cy="176.20" r="1.40" fill="#ffa07a"/>
<circle cx="1170.28" cy="195.51" r="1.40" fill="#ffa07a"/>
<circle cx="1196.15" cy="173.44" r="1.40" fill="#ffa07a"/>
<circle cx="1222.02" cy="172.52" r="1.40" fill="#ffa07a"/>
<circle cx="1247.89" cy="180.80" r="1.40" fill="#ffa07a"/>
<circle cx="1273.76" cy="166.08" r="1.40" fill="#ffa07a"/>
<circle cx="1299.63" cy="172.52" r="1.40" fill="#ffa07a"/>
<circle cx="1325.50" cy="164.24" r="1.40" fill="#ffa07a"/>
<circle cx="1351.37" cy="171.60" r="1.40" fill="#ffa07a"/>
<rect x="1090.37" y="213.81" width="4.60" height="4.60" fill="#302a78"/>
<rect x="1116.24" y="212.16" width="4.60" height="4.60" fill="#302a78"/>
<rect x="1142.11" y="185.85" width="4.60" height="4.60" fill="#302a78"/>
<rect x="1167.98" y="182.73" width="4.60" height="4.60" fill="#302a78"/>
<rect x="1193.85" y="186.77" width="4.60" height="4.60" fill="#302a78"/>
<rect x="1219.72" y="173.90" width="4.60" height="4.60" fill="#302a78"/>
<rect x="1245.59" y="191.00" width="4.60" height="4.60" fill="#302a78"/>
<rect x="1271.46" y="187.69" width="4.60" height="4.60" fill="#302a78"/>
<rect x="1297.33" y="192.66" width="4.60" height="4.60" fill="#302a78"/>
<rect x="1323.20" y="210.69" width="4.60" height="4.60" fill="#302a78"/>
<rect x="1349.07" y="205.17" width="4.60" height="4.60" fill="#302a78"/>
<circle cx="1092.67" cy="230.28" r="1.50" fill="#00008b"/>
<circle cx="1118.54" cy="221.08" r="1.50" fill="#00008b"/>
<circle cx="1144.41" cy="221.26" r="1.50" fill="#00008b"/>
<circle cx="1170.28" cy="233.59" r="1.50" fill="#00008b"/>
<circle cx="1196.15" cy="229.54" r="1.50" fill="#00008b"/>
<circle cx="1222.02" cy="219.06" r="1.50" fill="#00008b"/>
<circle cx="1247.89" cy="228.62" r="1.50" fill="#00008b"/>
<circle cx="1273.76" cy="229.91" r="1.50" fill="#00008b"/>
<circle cx="1299.63" cy="219.42" r="1.50" fill="#00008b"/>
<circle cx="1325.50" cy="230.28" r="1.50" fill="#00008b"/>
<circle cx="1351.37" cy="228.99" r="1.50" fill="#00008b"/>
<circle cx="1092.67" cy="260.81" r="1.60" fill="#cd5c5c"/>
<circle cx="1118.54" cy="252.54" r="1.60" fill="#cd5c5c"/>
<circle cx="1144.41" cy="257.13" r="1.60" fill="#cd5c5c"/>
<circle cx="1170.28" cy="253.46" r="1.60" fill="#cd5c5c"/>
<circle cx="1196.15" cy="256.21" r="1.60" fill="#cd5c5c"/>
<circle cx="1222.02" cy="251.80" r="1.60" fill="#cd5c5c"/>
<circle cx="1247.89" cy="259.89" r="1.60" fill="#cd5c5c"/>
<circle cx="1273.76" cy="258.61" r="1.60" fill="#cd5c5c"/>
<circle cx="1299.63" cy="256.03" r="1.60" fill="#cd5c5c"/>
<circle cx="1325.50" cy="254.38" r="1.60" fill="#cd5c5c"/>
<circle cx="1351.37" cy="257.87" r="1.60" fill="#cd5c5c"/>
<circle cx="1092.67" cy="279.21" r="1.50" fill="#ff4f1f"/>
<circle cx="1118.54" cy="274.61" r="1.50" fill="#ff4f1f"/>
<circle cx="1144.41" cy="274.61" r="1.50" fill="#ff4f1f"/>
<circle cx="1170.28" cy="270.93" r="1.50" fill="#ff4f1f"/>
<circle cx="1196.15" cy="272.77" r="1.50" fill="#ff4f1f"/>
<circle cx="1222.02" cy="269.28" r="1.50" fill="#ff4f1f"/>
<circle cx="1247.89" cy="268.91" r="1.50" fill="#ff4f1f"/>
<circle cx="1273.76" cy="272.95" r="1.50" fill="#ff4f1f"/>
<circle cx="1299.63" cy="277.92" r="1.50" fill="#ff4f1f"/>
<circle cx="1325.50" cy="268.72" r="1.50" fill="#ff4f1f"/>
<circle cx="1351.37" cy="274.61" r="1.50" fill="#ff4f1f"/>
<rect x="1090.87" y="283.85" width="3.60" height="3.60" fill="#b01c1c"/>
<rect x="1116.74" y="282.01" width="3.60" height="3.60" fill="#b01c1c"/>
<rect x="1142.61" y="289.37" width="3.60" height="3.60" fill="#b01c1c"/>
<rect x="1168.48" y="280.17" width="3.60" height="3.60" fill="#b01c1c"/>
<rect x="1194.35" y="285.69" width="3.60" height="3.60" fill="#b01c1c"/>
<rect x="1220.22" y="290.47" width="3.60" height="3.60" fill="#b01c1c"/>
<rect x="1246.09" y="290.29" width="3.60" height="3.60" fill="#b01c1c"/>
<rect x="1271.96" y="292.86" width="3.60" height="3.60" fill="#b01c1c"/>
<rect x="1297.83" y="294.15" width="3.60" height="3.60" fill="#b01c1c"/>
<rect x="1323.70" y="295.99" width="3.60" height="3.60" fill="#b01c1c"/>
<rect x="1349.57" y="294.15" width="3.60" height="3.60" fill="#b01c1c"/>
<circle cx="1092.67" cy="297.60" r="1.50" fill="#ffd700"/>
<circle cx="1118.54" cy="300.36" r="1.50" fill="#ffd700"/>
<circle cx="1144.41" cy="300.36" r="1.50" fill="#ffd700"/>
<circle cx="1170.28" cy="301.28" r="1.50" fill="#ffd700"/>
<circle cx="1196.15" cy="298.52" r="1.50" fill="#ffd700"/>
<circle cx="1222.02" cy="304.78" r="1.50" fill="#ffd700"/>
<circle cx="1247.89" cy="302.94" r="1.50" fill="#ffd700"/>
<circle cx="1273.76" cy="304.23" r="1.50" fill="#ffd700"/>
<circle cx="1299.63" cy="304.78" r="1.50" fill="#ffd700"/>
<circle cx="1325.50" cy="302.20" r="1.50" fill="#ffd700"/>
<circle cx="1351.37" cy="305.33" r="1.50" fill="#ffd700"/>
<path d="M1092.67 306.42L1094.11 309.73L1091.22 309.73Z" fill="#4682b4"/>
<path d="M1118.54 306.23L1119.98 309.55L1117.10 309.55Z" fill="#4682b4"/>
<path d="M1144.41 306.60L1145.85 309.92L1142.96 309.92Z" fill="#4682b4"/>
<path d="M1170.28 306.78L1171.72 310.10L1168.84 310.10Z" fill="#4682b4"/>
<path d="M1196.15 306.60L1197.59 309.92L1194.70 309.92Z" fill="#4682b4"/>
<path d="M1222.02 306.97L1223.46 310.28L1220.58 310.28Z" fill="#4682b4"/>
<path d="M1247.89 306.78L1249.33 310.10L1246.44 310.10Z" fill="#4682b4"/>
<path d="M1273.76 306.97L1275.20 310.28L1272.32 310.28Z" fill="#4682b4"/>
<path d="M1299.63 306.60L1301.07 309.92L1298.18 309.92Z" fill="#4682b4"/>
<path d="M1325.50 307.15L1326.94 310.47L1324.06 310.47Z" fill="#4682b4"/>
<path d="M1351.37 307.15L1352.81 310.47L1349.92 310.47Z" fill="#4682b4"/>
<circle cx="1092.67" cy="309.93" r="2.00" fill="#0000ff"/>
<circle cx="1118.54" cy="310.11" r="2.00" fill="#0000ff"/>
<circle cx="1144.41" cy="310.30" r="2.00" fill="#0000ff"/>
<circle cx="1170.28" cy="310.48" r="2.00" fill="#0000ff"/>
<circle cx="1196.15" cy="310.30" r="2.00" fill="#0000ff"/>
<circle cx="1222.02" cy="310.48" r="2.00" fill="#0000ff"/>
<circle cx="1247.89" cy="310.48" r="2.00" fill="#0000ff"/>
<circle cx="1273.76" cy="310.48" r="2.00" fill="#0000ff"/>
<circle cx="1299.63" cy="310.48" r="2.00" fill="#0000ff"/>
<circle cx="1325.50" cy="310.66" r="2.00" fill="#0000ff"/>
<circle cx="1351.37" cy="310.66" r="2.00" fill="#0000ff"/>
</g>
<rect x="1066.80" y="48.40" width="310.40" height="263.00" fill="none" stroke="#3c3c3c" stroke-width="1.90"/>
<text x="1065.30" y="314.28" font-size="8.00" text-anchor="end" fill="#1a1a1a" textLength="15.26" lengthAdjust="spacingAndGlyphs" stroke="#1a1a1a" stroke-width="0.15">0.00</text>
<text x="1065.30" y="286.69" font-size="8.00" text-anchor="end" fill="#1a1a1a" textLength="19.62" lengthAdjust="spacingAndGlyphs" stroke="#1a1a1a" stroke-width="0.15">15.00</text>
<text x="1065.30" y="259.09" font-size="8.00" text-anchor="end" fill="#1a1a1a" textLength="19.62" lengthAdjust="spacingAndGlyphs" stroke="#1a1a1a" stroke-width="0.15">30.00</text>
<text x="1065.30" y="231.50" font-size="8.00" text-anchor="end" fill="#1a1a1a" textLength="19.62" lengthAdjust="spacingAndGlyphs" stroke="#1a1a1a" stroke-width="0.15">45.00</text>
<text x="1065.30" y="203.91" font-size="8.00" text-anchor="end" fill="#1a1a1a" textLength="19.62" lengthAdjust="spacingAndGlyphs" stroke="#1a1a1a" stroke-width="0.15">60.00</text>
<text x="1065.30" y="176.32" font-size="8.00" text-anchor="end" fill="#1a1a1a" textLength="19.62" lengthAdjust="spacingAndGlyphs" stroke="#1a1a1a" stroke-width="0.15">75.00</text>
<text x="1065.30" y="148.72" font-size="8.00" text-anchor="end" fill="#1a1a1a" textLength="19.62" lengthAdjust="spacingAndGlyphs" stroke="#1a1a1a" stroke-width="0.15">90.00</text>
<text x="1065.30" y="121.13" font-size="8.00" text-anchor="end" fill="#1a1a1a" textLength="23.98" lengthAdjust="spacingAndGlyphs" stroke="#1a1a1a" stroke-width="0.15">105.00</text>
<text x="1065.30" y="93.54" font-size="8.00" text-anchor="end" fill="#1a1a1a" textLength="23.98" lengthAdjust="spacingAndGlyphs" stroke="#1a1a1a" stroke-width="0.15">120.00</text>
<text x="1065.30" y="65.95" font-size="8.00" text-anchor="end" fill="#1a1a1a" textLength="23.98" lengthAdjust="spacingAndGlyphs" stroke="#1a1a1a" stroke-width="0.15">135.00</text>
<text x="1066.80" y="322.40" font-size="8.00" text-anchor="middle" fill="#1a1a1a" textLength="14.59" lengthAdjust="spacingAndGlyphs" stroke="#1a1a1a" stroke-width="0.15">2009</text>
<text x="1092.67" y="322.40" font-size="8.00" text-anchor="middle" fill="#1a1a1a" textLength="14.59" lengthAdjust="spacingAndGlyphs" stroke="#1a1a1a" stroke-width="0.15">2010</text>
<text x="1118.54" y="322.40" font-size="8.00" text-anchor="middle" fill="#1a1a1a" textLength="14.11" lengthAdjust="spacingAndGlyphs" stroke="#1a1a1a" stroke-width="0.15">2011</text>
<text x="1144.41" y="322.40" font-size="8.00" text-anchor="middle" fill="#1a1a1a" textLength="14.59" lengthAdjust="spacingAndGlyphs" stroke="#1a1a1a" stroke-width="0.15">2012</text>
<text x="1170.28" y="322.40" font-size="8.00" text-anchor="middle" fill="#1a1a1a" textLength="14.59" lengthAdjust="spacingAndGlyphs" stroke="#1a1a1a" stroke-width="0.15">2013</text>
<text x="1196.15" y="322.40" font-size="8.00" text-anchor="middle" fill="#1a1a1a" textLength="14.59" lengthAdjust="spacingAndGlyphs" stroke="#1a1a1a" stroke-width="0.15">2014</text>
<text x="1222.02" y="322.40" font-size="8.00" text-anchor="middle" fill="#1a1a1a" textLength="14.59" lengthAdjust="spacingAndGlyphs" stroke="#1a1a1a" stroke-width="0.15">2015</text>
<text x="1247.89" y="322.40" font-size="8.00" text-anchor="middle" fill="#1a1a1a" textLength="14.59" lengthAdjust="spacingAndGlyphs" stroke="#1a1a1a" stroke-width="0.15">2016</text>
<text x="1273.76" y="322.40" font-size="8.00" text-anchor="middle" fill="#1a1a1a" textLength="14.59" lengthAdjust="spacingAndGlyphs" stroke="#1a1a1a" stroke-width="0.15">2017</text>
<text x="1299.63" y="322.40" font-size="8.00" text-anchor="middle" fill="#1a1a1a" textLength="14.59" lengthAdjust="spacingAndGlyphs" stroke="#1a1a1a" stroke-width="0.15">2018</text>
<text x="1325.50" y="322.40" font-size="8.00" text-anchor="middle" fill="#1a1a1a" textLength="14.59" lengthAdjust="spacingAndGlyphs" stroke="#1a1a1a" stroke-width="0.15">2019</text>
<text x="1351.37" y="322.40" font-size="8.00" text-anchor="middle" fill="#1a1a1a" textLength="14.59" lengthAdjust="spacingAndGlyphs" stroke="#1a1a1a" stroke-width="0.15">2020</text>
<text x="1377.24" y="322.40" font-size="8.00" text-anchor="middle" fill="#1a1a1a" textLength="14.59" lengthAdjust="spacingAndGlyphs" stroke="#1a1a1a" stroke-width="0.15">2021</text>
<text x="1221.30" y="338.30" font-size="9.30" font-weight="bold" text-anchor="middle" fill="#111" textLength="20.50" lengthAdjust="spacingAndGlyphs">Year</text>
<text x="0.00" y="0.00" font-size="8.30" font-weight="bold" text-anchor="middle" fill="#111" textLength="121.60" lengthAdjust="spacingAndGlyphs" transform="translate(1025.10,179.60) rotate(-90)">Age-standardized incidence</text>
<rect x="1402.50" y="57.50" width="125.90" height="277.50" fill="#fff" stroke="#5a5a5a" stroke-width="1.2"/>
<circle cx="1415.20" cy="63.90" r="1.60" fill="#0000ff"/>
<text x="1425.30" y="67.93" font-size="8.10" text-anchor="start" fill="#111" textLength="80.70" lengthAdjust="spacingAndGlyphs" style="white-space:pre" stroke="#111" stroke-width="0.22">20-24years - 0 Joinpoints</text>
<line x1="1408.10" y1="75.89" x2="1422.20" y2="75.89" stroke="#1a1aff" stroke-width="1.60"/>
<text x="1425.30" y="78.72" font-size="8.10" text-anchor="start" fill="#111" textLength="77.32" lengthAdjust="spacingAndGlyphs" style="white-space:pre" stroke="#111" stroke-width="0.22">2010-2020 APC  = -5.10</text>
<circle cx="1415.20" cy="85.48" r="1.30" fill="#4682b4"/>
<text x="1425.30" y="89.51" font-size="8.10" text-anchor="start" fill="#111" textLength="80.70" lengthAdjust="spacingAndGlyphs" style="white-space:pre" stroke="#111" stroke-width="0.22">25-29years - 0 Joinpoints</text>
<line x1="1408.10" y1="97.47" x2="1422.20" y2="97.47" stroke="#4a8ed0" stroke-width="1.60"/>
<text x="1425.30" y="100.30" font-size="8.10" text-anchor="start" fill="#111" textLength="80.11" lengthAdjust="spacingAndGlyphs" style="white-space:pre" stroke="#111" stroke-width="0.22">2010-2020 APC  = -3.54*</text>
<circle cx="1415.20" cy="107.06" r="1.30" fill="#ffd700"/>
<text x="1425.30" y="111.09" font-size="8.10" text-anchor="start" fill="#111" textLength="80.70" lengthAdjust="spacingAndGlyphs" style="white-space:pre" stroke="#111" stroke-width="0.22">30-34years - 0 Joinpoints</text>
<line x1="1408.10" y1="119.05" x2="1422.20" y2="119.05" stroke="#ffd700" stroke-width="1.60"/>
<text x="1425.30" y="121.88" font-size="8.10" text-anchor="start" fill="#111" textLength="80.11" lengthAdjust="spacingAndGlyphs" style="white-space:pre" stroke="#111" stroke-width="0.22">2010-2020 APC  = -6.13*</text>
<rect x="1413.90" y="127.34" width="2.60" height="2.60" fill="#b01c1c"/>
<text x="1425.30" y="132.67" font-size="8.10" text-anchor="start" fill="#111" textLength="80.70" lengthAdjust="spacingAndGlyphs" style="white-space:pre" stroke="#111" stroke-width="0.22">35-39years - 0 Joinpoints</text>
<line x1="1408.10" y1="140.63" x2="1422.20" y2="140.63" stroke="#b01c1c" stroke-width="1.60"/>
<text x="1425.30" y="143.47" font-size="8.10" text-anchor="start" fill="#111" textLength="80.11" lengthAdjust="spacingAndGlyphs" style="white-space:pre" stroke="#111" stroke-width="0.22">2010-2020 APC  = -6.45*</text>
<circle cx="1415.20" cy="150.22" r="1.30" fill="#ff4f1f"/>
<text x="1425.30" y="154.25" font-size="8.10" text-anchor="start" fill="#111" textLength="80.70" lengthAdjust="spacingAndGlyphs" style="white-space:pre" stroke="#111" stroke-width="0.22">40-44years - 0 Joinpoints</text>
<line x1="1408.10" y1="162.21" x2="1422.20" y2="162.21" stroke="#ff6a3d" stroke-width="1.60"/>
<text x="1425.30" y="165.04" font-size="8.10" text-anchor="start" fill="#111" textLength="76.92" lengthAdjust="spacingAndGlyphs" style="white-space:pre" stroke="#111" stroke-width="0.22">2010-2020 APC  =  1.03</text>
<circle cx="1415.20" cy="171.80" r="1.30" fill="#cd5c5c"/>
<text x="1425.30" y="175.84" font-size="8.10" text-anchor="start" fill="#111" textLength="80.70" lengthAdjust="spacingAndGlyphs" style="white-space:pre" stroke="#111" stroke-width="0.22">45-49years - 0 Joinpoints</text>
<line x1="1408.10" y1="183.79" x2="1422.20" y2="183.79" stroke="#d25555" stroke-width="1.60"/>
<text x="1425.30" y="186.62" font-size="8.10" text-anchor="start" fill="#111" textLength="77.32" lengthAdjust="spacingAndGlyphs" style="white-space:pre" stroke="#111" stroke-width="0.22">2010-2020 APC  = -0.08</text>
<circle cx="1415.20" cy="193.38" r="1.30" fill="#00008b"/>
<text x="1425.30" y="197.41" font-size="8.10" text-anchor="start" fill="#111" textLength="80.70" lengthAdjust="spacingAndGlyphs" style="white-space:pre" stroke="#111" stroke-width="0.22">50-54years - 0 Joinpoints</text>
<line x1="1408.10" y1="205.37" x2="1422.20" y2="205.37" stroke="#4c4cbf" stroke-width="1.60"/>
<text x="1425.30" y="208.20" font-size="8.10" text-anchor="start" fill="#111" textLength="77.32" lengthAdjust="spacingAndGlyphs" style="white-space:pre" stroke="#111" stroke-width="0.22">2010-2020 APC  = -0.12</text>
<rect x="1413.60" y="213.36" width="3.20" height="3.20" fill="#302a78"/>
<text x="1425.30" y="219.00" font-size="8.10" text-anchor="start" fill="#111" textLength="77.11" lengthAdjust="spacingAndGlyphs" style="white-space:pre" stroke="#111" stroke-width="0.22">55-59years - 1 Joinpoint</text>
<line x1="1408.10" y1="226.95" x2="1422.20" y2="226.95" stroke="#5a4fa8" stroke-width="1.60"/>
<text x="1425.30" y="229.78" font-size="8.10" text-anchor="start" fill="#111" textLength="81.72" lengthAdjust="spacingAndGlyphs" style="white-space:pre" stroke="#111" stroke-width="0.22">2010-2013 APC  = 12.81*</text>
<line x1="1408.10" y1="237.74" x2="1422.20" y2="237.74" stroke="#3d3d9a" stroke-width="1.60"/>
<text x="1425.30" y="240.57" font-size="8.10" text-anchor="start" fill="#111" textLength="80.11" lengthAdjust="spacingAndGlyphs" style="white-space:pre" stroke="#111" stroke-width="0.22">2013-2020 APC  = -3.41*</text>
<circle cx="1415.20" cy="247.33" r="1.30" fill="#ffa07a"/>
<text x="1425.30" y="251.36" font-size="8.10" text-anchor="start" fill="#111" textLength="80.70" lengthAdjust="spacingAndGlyphs" style="white-space:pre" stroke="#111" stroke-width="0.22">60-64years - 0 Joinpoints</text>
<line x1="1408.10" y1="259.32" x2="1422.20" y2="259.32" stroke="#ffb08a" stroke-width="1.60"/>
<text x="1425.30" y="262.15" font-size="8.10" text-anchor="start" fill="#111" textLength="76.92" lengthAdjust="spacingAndGlyphs" style="white-space:pre" stroke="#111" stroke-width="0.22">2010-2020 APC  =  1.13</text>
<circle cx="1415.20" cy="268.91" r="1.50" fill="#87cefa"/>
<text x="1425.30" y="272.94" font-size="8.10" text-anchor="start" fill="#111" textLength="80.70" lengthAdjust="spacingAndGlyphs" style="white-space:pre" stroke="#111" stroke-width="0.22">65-69years - 0 Joinpoints</text>
<line x1="1408.10" y1="280.90" x2="1422.20" y2="280.90" stroke="#8fd4fb" stroke-width="1.60"/>
<text x="1425.30" y="283.73" font-size="8.10" text-anchor="start" fill="#111" textLength="80.11" lengthAdjust="spacingAndGlyphs" style="white-space:pre" stroke="#111" stroke-width="0.22">2010-2020 APC  = -1.39*</text>
<path d="M1415.20 288.81L1416.39 291.54L1414.01 291.54Z" fill="#b0c4de"/>
<text x="1425.30" y="294.52" font-size="8.10" text-anchor="start" fill="#111" textLength="80.70" lengthAdjust="spacingAndGlyphs" style="white-space:pre" stroke="#111" stroke-width="0.22">70-74years - 0 Joinpoints</text>
<line x1="1408.10" y1="302.48" x2="1422.20" y2="302.48" stroke="#bccde6" stroke-width="1.60"/>
<text x="1425.30" y="305.31" font-size="8.10" text-anchor="start" fill="#111" textLength="80.11" lengthAdjust="spacingAndGlyphs" style="white-space:pre" stroke="#111" stroke-width="0.22">2010-2020 APC  = -2.42*</text>
<circle cx="1415.20" cy="312.07" r="1.30" fill="#ff8c00"/>
<text x="1425.30" y="316.10" font-size="8.10" text-anchor="start" fill="#111" textLength="77.11" lengthAdjust="spacingAndGlyphs" style="white-space:pre" stroke="#111" stroke-width="0.22">75-79years - 1 Joinpoint</text>
<line x1="1408.10" y1="324.06" x2="1422.20" y2="324.06" stroke="#ffa84a" stroke-width="1.60"/>
<text x="1425.30" y="326.89" font-size="8.10" text-anchor="start" fill="#111" textLength="79.72" lengthAdjust="spacingAndGlyphs" style="white-space:pre" stroke="#111" stroke-width="0.22">2010-2015 APC  =  6.94*</text>
<rect x="1460.90" y="331.00" width="1.6" height="1.6" fill="#111"/>
<rect x="1464.50" y="331.00" width="1.6" height="1.6" fill="#111"/>
<rect x="1468.10" y="331.00" width="1.6" height="1.6" fill="#111"/>
<text x="4.20" y="361.60" font-size="30.50" font-weight="bold" text-anchor="start" fill="#000">D</text>
<text x="189.00" y="379.50" font-size="8.60" font-weight="bold" text-anchor="start" fill="#151515" textLength="129.60" lengthAdjust="spacingAndGlyphs">Multiple Joinpoint Models</text>
<line x1="58.10" y1="613.50" x2="344.60" y2="613.50" stroke="#dedede" stroke-width="1.00" stroke-dasharray="3,2"/>
<line x1="58.10" y1="577.50" x2="344.60" y2="577.50" stroke="#dedede" stroke-width="1.00" stroke-dasharray="3,2"/>
<line x1="58.10" y1="542.50" x2="344.60" y2="542.50" stroke="#dedede" stroke-width="1.00" stroke-dasharray="3,2"/>
<line x1="58.10" y1="506.50" x2="344.60" y2="506.50" stroke="#dedede" stroke-width="1.00" stroke-dasharray="3,2"/>
<line x1="58.10" y1="471.50" x2="344.60" y2="471.50" stroke="#dedede" stroke-width="1.00" stroke-dasharray="3,2"/>
<line x1="58.10" y1="435.50" x2="344.60" y2="435.50" stroke="#dedede" stroke-width="1.00" stroke-dasharray="3,2"/>
<line x1="58.10" y1="400.50" x2="344.60" y2="400.50" stroke="#dedede" stroke-width="1.00" stroke-dasharray="3,2"/>
<line x1="80.50" y1="395.60" x2="80.50" y2="647.70" stroke="#bcbcbc" stroke-width="1.00" stroke-dasharray="2,1"/>
<line x1="104.50" y1="395.60" x2="104.50" y2="647.70" stroke="#bcbcbc" stroke-width="1.00" stroke-dasharray="2,1"/>
<line x1="128.50" y1="395.60" x2="128.50" y2="647.70" stroke="#bcbcbc" stroke-width="1.00" stroke-dasharray="2,1"/>
<line x1="152.50" y1="395.60" x2="152.50" y2="647.70" stroke="#bcbcbc" stroke-width="1.00" stroke-dasharray="2,1"/>
<line x1="177.50" y1="395.60" x2="177.50" y2="647.70" stroke="#bcbcbc" stroke-width="1.00" stroke-dasharray="2,1"/>
<line x1="201.50" y1="395.60" x2="201.50" y2="647.70" stroke="#bcbcbc" stroke-width="1.00" stroke-dasharray="2,1"/>
<line x1="225.50" y1="395.60" x2="225.50" y2="647.70" stroke="#bcbcbc" stroke-width="1.00" stroke-dasharray="2,1"/>
<line x1="249.50" y1="395.60" x2="249.50" y2="647.70" stroke="#bcbcbc" stroke-width="1.00" stroke-dasharray="2,1"/>
<line x1="273.50" y1="395.60" x2="273.50" y2="647.70" stroke="#bcbcbc" stroke-width="1.00" stroke-dasharray="2,1"/>
<line x1="298.50" y1="395.60" x2="298.50" y2="647.70" stroke="#bcbcbc" stroke-width="1.00" stroke-dasharray="2,1"/>
<line x1="322.50" y1="395.60" x2="322.50" y2="647.70" stroke="#bcbcbc" stroke-width="1.00" stroke-dasharray="2,1"/>
<g clip-path="url(#clipD)">
<polyline points="80.30,396.30 322.30,441.38" fill="none" stroke="#7aafdf" stroke-width="1.20" stroke-linejoin="round"/>
<polyline points="80.30,494.63 249.70,511.67" fill="none" stroke="#2b2bff" stroke-width="1.30" stroke-linejoin="round"/>
<polyline points="249.70,511.67 322.30,527.29" fill="none" stroke="#2b2bff" stroke-width="1.60" stroke-linejoin="round"/>
<polyline points="80.30,590.84 322.30,606.81" fill="none" stroke="#ffdf2a" stroke-width="1.40" stroke-linejoin="round"/>
<path d="M80.30 394.36L82.42 399.24L78.17 399.24Z" fill="#2f74b5"/>
<path d="M104.50 404.66L106.62 409.53L102.38 409.53Z" fill="#2f74b5"/>
<path d="M128.70 399.33L130.82 404.21L126.57 404.21Z" fill="#2f74b5"/>
<path d="M152.90 415.66L155.03 420.54L150.78 420.54Z" fill="#2f74b5"/>
<path d="M177.10 407.85L179.22 412.73L174.97 412.73Z" fill="#2f74b5"/>
<path d="M201.30 413.53L203.42 418.41L199.17 418.41Z" fill="#2f74b5"/>
<path d="M225.50 414.24L227.62 419.12L223.38 419.12Z" fill="#2f74b5"/>
<path d="M249.70 419.92L251.82 424.80L247.57 424.80Z" fill="#2f74b5"/>
<path d="M273.90 430.57L276.02 435.45L271.77 435.45Z" fill="#2f74b5"/>
<path d="M298.10 440.51L300.23 445.39L295.98 445.39Z" fill="#2f74b5"/>
<path d="M322.30 439.80L324.43 444.68L320.18 444.68Z" fill="#2f74b5"/>
<circle cx="80.30" cy="495.34" r="2.30" fill="#0000ff"/>
<circle cx="104.50" cy="498.89" r="2.30" fill="#0000ff"/>
<circle cx="128.70" cy="498.89" r="2.30" fill="#0000ff"/>
<circle cx="152.90" cy="505.99" r="2.30" fill="#0000ff"/>
<circle cx="177.10" cy="504.57" r="2.30" fill="#0000ff"/>
<circle cx="201.30" cy="505.99" r="2.30" fill="#0000ff"/>
<circle cx="225.50" cy="510.61" r="2.30" fill="#0000ff"/>
<circle cx="249.70" cy="511.67" r="2.30" fill="#0000ff"/>
<circle cx="273.90" cy="518.06" r="2.30" fill="#0000ff"/>
<circle cx="298.10" cy="525.87" r="2.30" fill="#0000ff"/>
<circle cx="322.30" cy="526.23" r="2.30" fill="#0000ff"/>
<rect x="78.90" y="591.92" width="2.80" height="2.80" fill="#ffd700"/>
<rect x="103.10" y="589.79" width="2.80" height="2.80" fill="#ffd700"/>
<rect x="127.30" y="594.05" width="2.80" height="2.80" fill="#ffd700"/>
<rect x="151.50" y="593.34" width="2.80" height="2.80" fill="#ffd700"/>
<rect x="175.70" y="596.89" width="2.80" height="2.80" fill="#ffd700"/>
<rect x="199.90" y="595.47" width="2.80" height="2.80" fill="#ffd700"/>
<rect x="224.10" y="602.57" width="2.80" height="2.80" fill="#ffd700"/>
<rect x="248.30" y="596.54" width="2.80" height="2.80" fill="#ffd700"/>
<rect x="272.50" y="601.15" width="2.80" height="2.80" fill="#ffd700"/>
<rect x="296.70" y="604.70" width="2.80" height="2.80" fill="#ffd700"/>
<rect x="320.90" y="606.12" width="2.80" height="2.80" fill="#ffd700"/>
</g>
<rect x="56.10" y="392.60" width="290.50" height="256.10" fill="none" stroke="#3c3c3c" stroke-width="1.90"/>
<text x="54.20" y="652.23" font-size="9.80" text-anchor="end" fill="#1a1a1a" textLength="17.17" lengthAdjust="spacingAndGlyphs" stroke="#1a1a1a" stroke-width="0.15">1.00</text>
<text x="54.20" y="616.73" font-size="9.80" text-anchor="end" fill="#1a1a1a" textLength="17.17" lengthAdjust="spacingAndGlyphs" stroke="#1a1a1a" stroke-width="0.15">6.00</text>
<text x="54.20" y="581.23" font-size="9.80" text-anchor="end" fill="#1a1a1a" textLength="21.42" lengthAdjust="spacingAndGlyphs" stroke="#1a1a1a" stroke-width="0.15">11.00</text>
<text x="54.20" y="545.73" font-size="9.80" text-anchor="end" fill="#1a1a1a" textLength="22.07" lengthAdjust="spacingAndGlyphs" stroke="#1a1a1a" stroke-width="0.15">16.00</text>
<text x="54.20" y="510.23" font-size="9.80" text-anchor="end" fill="#1a1a1a" textLength="22.07" lengthAdjust="spacingAndGlyphs" stroke="#1a1a1a" stroke-width="0.15">21.00</text>
<text x="54.20" y="474.73" font-size="9.80" text-anchor="end" fill="#1a1a1a" textLength="22.07" lengthAdjust="spacingAndGlyphs" stroke="#1a1a1a" stroke-width="0.15">26.00</text>
<text x="54.20" y="439.23" font-size="9.80" text-anchor="end" fill="#1a1a1a" textLength="22.07" lengthAdjust="spacingAndGlyphs" stroke="#1a1a1a" stroke-width="0.15">31.00</text>
<text x="54.20" y="403.73" font-size="9.80" text-anchor="end" fill="#1a1a1a" textLength="22.07" lengthAdjust="spacingAndGlyphs" stroke="#1a1a1a" stroke-width="0.15">36.00</text>
<text x="56.10" y="661.40" font-size="9.80" text-anchor="middle" fill="#1a1a1a" textLength="17.66" lengthAdjust="spacingAndGlyphs" stroke="#1a1a1a" stroke-width="0.15">2009</text>
<text x="80.30" y="661.40" font-size="9.80" text-anchor="middle" fill="#1a1a1a" textLength="17.66" lengthAdjust="spacingAndGlyphs" stroke="#1a1a1a" stroke-width="0.15">2010</text>
<text x="104.50" y="661.40" font-size="9.80" text-anchor="middle" fill="#1a1a1a" textLength="17.07" lengthAdjust="spacingAndGlyphs" stroke="#1a1a1a" stroke-width="0.15">2011</text>
<text x="128.70" y="661.40" font-size="9.80" text-anchor="middle" fill="#1a1a1a" textLength="17.66" lengthAdjust="spacingAndGlyphs" stroke="#1a1a1a" stroke-width="0.15">2012</text>
<text x="152.90" y="661.40" font-size="9.80" text-anchor="middle" fill="#1a1a1a" textLength="17.66" lengthAdjust="spacingAndGlyphs" stroke="#1a1a1a" stroke-width="0.15">2013</text>
<text x="177.10" y="661.40" font-size="9.80" text-anchor="middle" fill="#1a1a1a" textLength="17.66" lengthAdjust="spacingAndGlyphs" stroke="#1a1a1a" stroke-width="0.15">2014</text>
<text x="201.30" y="661.40" font-size="9.80" text-anchor="middle" fill="#1a1a1a" textLength="17.66" lengthAdjust="spacingAndGlyphs" stroke="#1a1a1a" stroke-width="0.15">2015</text>
<text x="225.50" y="661.40" font-size="9.80" text-anchor="middle" fill="#1a1a1a" textLength="17.66" lengthAdjust="spacingAndGlyphs" stroke="#1a1a1a" stroke-width="0.15">2016</text>
<text x="249.70" y="661.40" font-size="9.80" text-anchor="middle" fill="#1a1a1a" textLength="17.66" lengthAdjust="spacingAndGlyphs" stroke="#1a1a1a" stroke-width="0.15">2017</text>
<text x="273.90" y="661.40" font-size="9.80" text-anchor="middle" fill="#1a1a1a" textLength="17.66" lengthAdjust="spacingAndGlyphs" stroke="#1a1a1a" stroke-width="0.15">2018</text>
<text x="298.10" y="661.40" font-size="9.80" text-anchor="middle" fill="#1a1a1a" textLength="17.66" lengthAdjust="spacingAndGlyphs" stroke="#1a1a1a" stroke-width="0.15">2019</text>
<text x="322.30" y="661.40" font-size="9.80" text-anchor="middle" fill="#1a1a1a" textLength="17.66" lengthAdjust="spacingAndGlyphs" stroke="#1a1a1a" stroke-width="0.15">2020</text>
<text x="346.50" y="661.40" font-size="9.80" text-anchor="middle" fill="#1a1a1a" textLength="17.66" lengthAdjust="spacingAndGlyphs" stroke="#1a1a1a" stroke-width="0.15">2021</text>
<text x="200.70" y="677.20" font-size="9.30" font-weight="bold" text-anchor="middle" fill="#111" textLength="24.50" lengthAdjust="spacingAndGlyphs">Year</text>
<text x="0.00" y="0.00" font-size="8.30" font-weight="bold" text-anchor="middle" fill="#111" textLength="128.30" lengthAdjust="spacingAndGlyphs" transform="translate(14.40,520.20) rotate(-90)">Age-standardized mortality</text>
<rect x="370.80" y="401.30" width="137.00" height="89.10" fill="#fff" stroke="#5a5a5a" stroke-width="1.2"/>
<circle cx="386.60" cy="408.90" r="1.90" fill="#0000ff"/>
<text x="398.80" y="413.18" font-size="8.80" text-anchor="start" fill="#111" textLength="68.20" lengthAdjust="spacingAndGlyphs" style="white-space:pre" stroke="#111" stroke-width="0.22">Total - 1 Joinpoint</text>
<line x1="377.80" y1="421.70" x2="394.90" y2="421.70" stroke="#2b2bff" stroke-width="1.20"/>
<text x="398.80" y="424.78" font-size="8.80" text-anchor="start" fill="#111" textLength="96.99" lengthAdjust="spacingAndGlyphs" style="white-space:pre" stroke="#111" stroke-width="0.22">2010-2017 APC  = -1.61*</text>
<line x1="377.80" y1="433.30" x2="394.90" y2="433.30" stroke="#2b2bff" stroke-width="1.90"/>
<text x="398.80" y="436.38" font-size="8.80" text-anchor="start" fill="#111" textLength="96.99" lengthAdjust="spacingAndGlyphs" style="white-space:pre" stroke="#111" stroke-width="0.22">2017-2020 APC  = -3.74*</text>
<path d="M386.60 441.66L388.05 444.98L385.16 444.98Z" fill="#2f74b5"/>
<text x="398.80" y="447.98" font-size="8.80" text-anchor="start" fill="#111" textLength="73.03" lengthAdjust="spacingAndGlyphs" style="white-space:pre" stroke="#111" stroke-width="0.22">Male - 0 Joinpoints</text>
<line x1="377.80" y1="456.50" x2="394.90" y2="456.50" stroke="#4d8ac4" stroke-width="1.60"/>
<text x="398.80" y="459.58" font-size="8.80" text-anchor="start" fill="#111" textLength="96.99" lengthAdjust="spacingAndGlyphs" style="white-space:pre" stroke="#111" stroke-width="0.22">2010-2020 APC  = -1.86*</text>
<rect x="385.40" y="465.70" width="2.40" height="2.40" fill="#ffd700"/>
<text x="398.80" y="471.18" font-size="8.80" text-anchor="start" fill="#111" textLength="83.19" lengthAdjust="spacingAndGlyphs" style="white-space:pre" stroke="#111" stroke-width="0.22">Female - 0 Joinpoints</text>
<line x1="377.80" y1="479.70" x2="394.90" y2="479.70" stroke="#ffdf2a" stroke-width="1.60"/>
<text x="398.80" y="482.78" font-size="8.80" text-anchor="start" fill="#111" textLength="96.99" lengthAdjust="spacingAndGlyphs" style="white-space:pre" stroke="#111" stroke-width="0.22">2010-2020 APC  = -2.72*</text>
<text x="505.40" y="361.60" font-size="30.50" font-weight="bold" text-anchor="start" fill="#000">E</text>
<text x="691.80" y="366.80" font-size="8.60" font-weight="bold" text-anchor="start" fill="#151515" textLength="121.40" lengthAdjust="spacingAndGlyphs">Multiple Joinpoint Models</text>
<line x1="584.60" y1="631.50" x2="853.90" y2="631.50" stroke="#d0d0d0" stroke-width="1.00"/>
<line x1="584.60" y1="607.50" x2="853.90" y2="607.50" stroke="#d0d0d0" stroke-width="1.00"/>
<line x1="584.60" y1="582.50" x2="853.90" y2="582.50" stroke="#d0d0d0" stroke-width="1.00"/>
<line x1="584.60" y1="558.50" x2="853.90" y2="558.50" stroke="#d0d0d0" stroke-width="1.00"/>
<line x1="584.60" y1="534.50" x2="853.90" y2="534.50" stroke="#d0d0d0" stroke-width="1.00"/>
<line x1="584.60" y1="509.50" x2="853.90" y2="509.50" stroke="#d0d0d0" stroke-width="1.00"/>
<line x1="584.60" y1="485.50" x2="853.90" y2="485.50" stroke="#d0d0d0" stroke-width="1.00"/>
<line x1="584.60" y1="461.50" x2="853.90" y2="461.50" stroke="#d0d0d0" stroke-width="1.00"/>
<line x1="584.60" y1="436.50" x2="853.90" y2="436.50" stroke="#d0d0d0" stroke-width="1.00"/>
<line x1="584.60" y1="412.50" x2="853.90" y2="412.50" stroke="#d0d0d0" stroke-width="1.00"/>
<line x1="612.50" y1="388.90" x2="612.50" y2="654.60" stroke="#d0d0d0" stroke-width="1.00"/>
<line x1="640.50" y1="388.90" x2="640.50" y2="654.60" stroke="#d0d0d0" stroke-width="1.00"/>
<line x1="669.50" y1="388.90" x2="669.50" y2="654.60" stroke="#d0d0d0" stroke-width="1.00"/>
<line x1="697.50" y1="388.90" x2="697.50" y2="654.60" stroke="#d0d0d0" stroke-width="1.00"/>
<line x1="725.50" y1="388.90" x2="725.50" y2="654.60" stroke="#d0d0d0" stroke-width="1.00"/>
<line x1="754.50" y1="388.90" x2="754.50" y2="654.60" stroke="#d0d0d0" stroke-width="1.00"/>
<line x1="782.50" y1="388.90" x2="782.50" y2="654.60" stroke="#d0d0d0" stroke-width="1.00"/>
<line x1="811.50" y1="388.90" x2="811.50" y2="654.60" stroke="#d0d0d0" stroke-width="1.00"/>
<line x1="839.50" y1="388.90" x2="839.50" y2="654.60" stroke="#d0d0d0" stroke-width="1.00"/>
<g clip-path="url(#clipE)">
<polyline points="584.00,631.49 599.77,631.48 615.54,631.46 631.31,631.43 647.08,631.38 662.85,631.30 678.62,631.15 694.39,630.92 710.16,630.53 725.93,629.88 741.70,628.80 757.47,627.00 773.24,624.00 789.01,619.03 804.78,610.75 820.55,596.99 836.32,574.11 852.09,536.05" fill="none" stroke="#3a3af2" stroke-width="1.20" stroke-linejoin="round"/>
<polyline points="584.00,631.43 599.77,631.43 615.54,631.43 631.31,631.43 647.08,631.43 662.85,631.43 678.62,631.27 694.39,630.81 710.16,629.45 725.93,625.44 741.70,622.69 757.47,618.69 773.24,612.86 789.01,604.40 804.78,592.09 820.55,574.19 836.32,548.17 852.09,510.33" fill="none" stroke="#6f9cc8" stroke-width="1.10" stroke-linejoin="round"/>
<polyline points="584.00,631.44 599.77,631.44 615.54,631.44 631.31,631.44 647.08,631.49 662.85,631.47 678.62,631.43 694.39,631.37 710.16,631.26 725.93,631.07 741.70,630.71 757.47,630.08 773.24,628.92 789.01,626.85 804.78,623.12 820.55,616.38 836.32,604.25 852.09,582.39" fill="none" stroke="#ffdd1a" stroke-width="1.20" stroke-linejoin="round"/>
<path d="M710.16 626.64L712.20 631.32L708.12 631.32Z" fill="#2f74b5"/>
<path d="M725.93 624.23L727.97 628.91L723.89 628.91Z" fill="#2f74b5"/>
<path d="M741.70 619.13L743.74 623.81L739.66 623.81Z" fill="#2f74b5"/>
<path d="M757.47 615.52L759.51 620.20L755.43 620.20Z" fill="#2f74b5"/>
<path d="M773.24 607.55L775.28 612.23L771.20 612.23Z" fill="#2f74b5"/>
<path d="M789.01 591.79L791.05 596.47L786.97 596.47Z" fill="#2f74b5"/>
<path d="M804.78 583.45L806.82 588.13L802.74 588.13Z" fill="#2f74b5"/>
<path d="M820.55 585.07L822.59 589.75L818.51 589.75Z" fill="#2f74b5"/>
<path d="M836.32 578.12L838.36 582.80L834.28 582.80Z" fill="#2f74b5"/>
<path d="M852.09 467.37L854.13 472.05L850.05 472.05Z" fill="#2f74b5"/>
<circle cx="710.16" cy="630.35" r="2.30" fill="#0000ff"/>
<circle cx="725.93" cy="627.80" r="2.30" fill="#0000ff"/>
<circle cx="741.70" cy="625.81" r="2.30" fill="#0000ff"/>
<circle cx="757.47" cy="624.00" r="2.30" fill="#0000ff"/>
<circle cx="773.24" cy="619.46" r="2.30" fill="#0000ff"/>
<circle cx="789.01" cy="610.89" r="2.30" fill="#0000ff"/>
<circle cx="804.78" cy="604.63" r="2.30" fill="#0000ff"/>
<circle cx="820.55" cy="604.63" r="2.30" fill="#0000ff"/>
<circle cx="836.32" cy="600.46" r="2.30" fill="#0000ff"/>
<circle cx="852.09" cy="536.05" r="2.30" fill="#0000ff"/>
<rect x="708.86" y="630.09" width="2.60" height="2.60" fill="#ffd700"/>
<rect x="724.63" y="629.82" width="2.60" height="2.60" fill="#ffd700"/>
<rect x="740.40" y="629.51" width="2.60" height="2.60" fill="#ffd700"/>
<rect x="756.17" y="628.70" width="2.60" height="2.60" fill="#ffd700"/>
<rect x="771.94" y="627.71" width="2.60" height="2.60" fill="#ffd700"/>
<rect x="787.71" y="624.88" width="2.60" height="2.60" fill="#ffd700"/>
<rect x="803.48" y="620.48" width="2.60" height="2.60" fill="#ffd700"/>
<rect x="819.25" y="617.47" width="2.60" height="2.60" fill="#ffd700"/>
<rect x="835.02" y="614.69" width="2.60" height="2.60" fill="#ffd700"/>
<rect x="850.79" y="573.91" width="2.60" height="2.60" fill="#ffd700"/>
<circle cx="584.00" cy="631.44" r="1.90" fill="#e0d24a" stroke="#40407a" stroke-width="1.0"/>
<circle cx="599.77" cy="631.44" r="1.90" fill="#e0d24a" stroke="#40407a" stroke-width="1.0"/>
<circle cx="615.54" cy="631.37" r="1.90" fill="#e0d24a" stroke="#40407a" stroke-width="1.0"/>
<circle cx="631.31" cy="631.44" r="1.90" fill="#e0d24a" stroke="#40407a" stroke-width="1.0"/>
<circle cx="647.08" cy="631.44" r="1.90" fill="#e0d24a" stroke="#40407a" stroke-width="1.0"/>
<circle cx="662.85" cy="631.39" r="1.90" fill="#e0d24a" stroke="#40407a" stroke-width="1.0"/>
<circle cx="678.62" cy="631.28" r="1.90" fill="#e0d24a" stroke="#40407a" stroke-width="1.0"/>
<circle cx="694.39" cy="631.05" r="1.90" fill="#e0d24a" stroke="#40407a" stroke-width="1.0"/>
</g>
<rect x="583.60" y="387.90" width="271.30" height="267.70" fill="none" stroke="#3c3c3c" stroke-width="1.90"/>
<text x="581.20" y="659.21" font-size="9.40" text-anchor="end" fill="#1a1a1a" textLength="33.40" lengthAdjust="spacingAndGlyphs" stroke="#1a1a1a" stroke-width="0.15">-104.958</text>
<text x="581.20" y="634.88" font-size="9.40" text-anchor="end" fill="#1a1a1a" textLength="21.17" lengthAdjust="spacingAndGlyphs" stroke="#1a1a1a" stroke-width="0.15">0.042</text>
<text x="581.20" y="610.56" font-size="9.40" text-anchor="end" fill="#1a1a1a" textLength="30.58" lengthAdjust="spacingAndGlyphs" stroke="#1a1a1a" stroke-width="0.15">105.042</text>
<text x="581.20" y="586.23" font-size="9.40" text-anchor="end" fill="#1a1a1a" textLength="30.58" lengthAdjust="spacingAndGlyphs" stroke="#1a1a1a" stroke-width="0.15">210.042</text>
<text x="581.20" y="561.90" font-size="9.40" text-anchor="end" fill="#1a1a1a" textLength="30.58" lengthAdjust="spacingAndGlyphs" stroke="#1a1a1a" stroke-width="0.15">315.042</text>
<text x="581.20" y="537.57" font-size="9.40" text-anchor="end" fill="#1a1a1a" textLength="30.58" lengthAdjust="spacingAndGlyphs" stroke="#1a1a1a" stroke-width="0.15">420.042</text>
<text x="581.20" y="513.24" font-size="9.40" text-anchor="end" fill="#1a1a1a" textLength="30.58" lengthAdjust="spacingAndGlyphs" stroke="#1a1a1a" stroke-width="0.15">525.042</text>
<text x="581.20" y="488.91" font-size="9.40" text-anchor="end" fill="#1a1a1a" textLength="30.58" lengthAdjust="spacingAndGlyphs" stroke="#1a1a1a" stroke-width="0.15">630.042</text>
<text x="581.20" y="464.58" font-size="9.40" text-anchor="end" fill="#1a1a1a" textLength="30.58" lengthAdjust="spacingAndGlyphs" stroke="#1a1a1a" stroke-width="0.15">735.042</text>
<text x="581.20" y="440.26" font-size="9.40" text-anchor="end" fill="#1a1a1a" textLength="30.58" lengthAdjust="spacingAndGlyphs" stroke="#1a1a1a" stroke-width="0.15">840.042</text>
<text x="581.20" y="415.93" font-size="9.40" text-anchor="end" fill="#1a1a1a" textLength="30.58" lengthAdjust="spacingAndGlyphs" stroke="#1a1a1a" stroke-width="0.15">945.042</text>
<text x="581.20" y="391.60" font-size="9.40" text-anchor="end" fill="#1a1a1a" textLength="37.64" lengthAdjust="spacingAndGlyphs" stroke="#1a1a1a" stroke-width="0.15">1,050.042</text>
<text x="583.10" y="668.90" font-size="9.40" text-anchor="middle" fill="#1a1a1a" textLength="4.50" lengthAdjust="spacingAndGlyphs" stroke="#1a1a1a" stroke-width="0.15">0</text>
<text x="611.49" y="668.90" font-size="9.40" text-anchor="middle" fill="#1a1a1a" textLength="4.50" lengthAdjust="spacingAndGlyphs" stroke="#1a1a1a" stroke-width="0.15">9</text>
<text x="639.87" y="668.90" font-size="9.40" text-anchor="middle" fill="#1a1a1a" textLength="8.99" lengthAdjust="spacingAndGlyphs" stroke="#1a1a1a" stroke-width="0.15">18</text>
<text x="668.26" y="668.90" font-size="9.40" text-anchor="middle" fill="#1a1a1a" textLength="8.99" lengthAdjust="spacingAndGlyphs" stroke="#1a1a1a" stroke-width="0.15">27</text>
<text x="696.64" y="668.90" font-size="9.40" text-anchor="middle" fill="#1a1a1a" textLength="8.99" lengthAdjust="spacingAndGlyphs" stroke="#1a1a1a" stroke-width="0.15">36</text>
<text x="725.03" y="668.90" font-size="9.40" text-anchor="middle" fill="#1a1a1a" textLength="8.99" lengthAdjust="spacingAndGlyphs" stroke="#1a1a1a" stroke-width="0.15">45</text>
<text x="753.42" y="668.90" font-size="9.40" text-anchor="middle" fill="#1a1a1a" textLength="8.99" lengthAdjust="spacingAndGlyphs" stroke="#1a1a1a" stroke-width="0.15">54</text>
<text x="781.80" y="668.90" font-size="9.40" text-anchor="middle" fill="#1a1a1a" textLength="8.99" lengthAdjust="spacingAndGlyphs" stroke="#1a1a1a" stroke-width="0.15">63</text>
<text x="810.19" y="668.90" font-size="9.40" text-anchor="middle" fill="#1a1a1a" textLength="8.99" lengthAdjust="spacingAndGlyphs" stroke="#1a1a1a" stroke-width="0.15">72</text>
<text x="838.57" y="668.90" font-size="9.40" text-anchor="middle" fill="#1a1a1a" textLength="8.99" lengthAdjust="spacingAndGlyphs" stroke="#1a1a1a" stroke-width="0.15">81</text>
<text x="718.80" y="685.80" font-size="9.30" font-weight="bold" text-anchor="middle" fill="#111" textLength="18.20" lengthAdjust="spacingAndGlyphs">Age</text>
<g clip-path="url(#yclipE)">
<text x="0.00" y="0.00" font-size="8.80" font-weight="bold" text-anchor="middle" fill="#111" textLength="44.50" lengthAdjust="spacingAndGlyphs" transform="translate(527.90,521.00) rotate(-90)">mortality</text>
</g>
<rect x="867.10" y="391.10" width="123.40" height="120.10" fill="#fff" stroke="#5a5a5a" stroke-width="1.2"/>
<circle cx="881.30" cy="399.00" r="1.90" fill="#0000ff"/>
<text x="892.80" y="403.21" font-size="8.60" text-anchor="start" fill="#111" textLength="67.70" lengthAdjust="spacingAndGlyphs" style="white-space:pre" stroke="#111" stroke-width="0.22">Total - 0 Joinpoints</text>
<line x1="873.80" y1="412.60" x2="889.30" y2="412.60" stroke="#3a3af2" stroke-width="1.60"/>
<text x="892.80" y="415.61" font-size="8.60" text-anchor="start" fill="#111" textLength="69.74" lengthAdjust="spacingAndGlyphs" style="white-space:pre" stroke="#111" stroke-width="0.22">0-85 APC  = 10.71*</text>
<path d="M881.30 421.76L882.75 425.07L879.85 425.07Z" fill="#2f74b5"/>
<text x="892.80" y="428.01" font-size="8.60" text-anchor="start" fill="#111" textLength="68.15" lengthAdjust="spacingAndGlyphs" style="white-space:pre" stroke="#111" stroke-width="0.22">Male - 2 Joinpoints</text>
<line x1="873.80" y1="437.40" x2="889.30" y2="437.40" stroke="#4d8ac4" stroke-width="1.60"/>
<text x="892.80" y="440.41" font-size="8.60" text-anchor="start" fill="#111" textLength="64.77" lengthAdjust="spacingAndGlyphs" style="white-space:pre" stroke="#111" stroke-width="0.22">0-25 APC  = -2.10</text>
<line x1="873.80" y1="449.80" x2="889.30" y2="449.80" stroke="#4d8ac4" stroke-width="1.60"/>
<text x="892.80" y="452.81" font-size="8.60" text-anchor="start" fill="#111" textLength="74.26" lengthAdjust="spacingAndGlyphs" style="white-space:pre" stroke="#111" stroke-width="0.22">25-45 APC  = 24.15*</text>
<line x1="873.80" y1="462.20" x2="889.30" y2="462.20" stroke="#4d8ac4" stroke-width="1.60"/>
<text x="892.80" y="465.21" font-size="8.60" text-anchor="start" fill="#111" textLength="72.00" lengthAdjust="spacingAndGlyphs" style="white-space:pre" stroke="#111" stroke-width="0.22">45-85 APC  =  7.78*</text>
<rect x="880.10" y="472.20" width="2.40" height="2.40" fill="#ffd700"/>
<text x="892.80" y="477.61" font-size="8.60" text-anchor="start" fill="#111" textLength="73.56" lengthAdjust="spacingAndGlyphs" style="white-space:pre" stroke="#111" stroke-width="0.22">Female - 1 Joinpoint</text>
<line x1="873.80" y1="487.00" x2="889.30" y2="487.00" stroke="#ffdf2a" stroke-width="1.60"/>
<text x="892.80" y="490.01" font-size="8.60" text-anchor="start" fill="#111" textLength="64.77" lengthAdjust="spacingAndGlyphs" style="white-space:pre" stroke="#111" stroke-width="0.22">0-20 APC  = -9.34</text>
<line x1="873.80" y1="499.40" x2="889.30" y2="499.40" stroke="#ffdf2a" stroke-width="1.60"/>
<text x="892.80" y="502.41" font-size="8.60" text-anchor="start" fill="#111" textLength="74.26" lengthAdjust="spacingAndGlyphs" style="white-space:pre" stroke="#111" stroke-width="0.22">20-85 APC  = 12.50*</text>
<text x="1015.60" y="361.60" font-size="30.50" font-weight="bold" text-anchor="start" fill="#000">F</text>
<text x="1215.00" y="367.70" font-size="8.60" font-weight="bold" text-anchor="start" fill="#151515" textLength="108.60" lengthAdjust="spacingAndGlyphs">Multiple Joinpoint Models</text>
<line x1="1068.20" y1="630.50" x2="1374.60" y2="630.50" stroke="#dedede" stroke-width="1.00" stroke-dasharray="3,2"/>
<line x1="1068.20" y1="604.50" x2="1374.60" y2="604.50" stroke="#dedede" stroke-width="1.00" stroke-dasharray="3,2"/>
<line x1="1068.20" y1="578.50" x2="1374.60" y2="578.50" stroke="#dedede" stroke-width="1.00" stroke-dasharray="3,2"/>
<line x1="1068.20" y1="552.50" x2="1374.60" y2="552.50" stroke="#dedede" stroke-width="1.00" stroke-dasharray="3,2"/>
<line x1="1068.20" y1="526.50" x2="1374.60" y2="526.50" stroke="#dedede" stroke-width="1.00" stroke-dasharray="3,2"/>
<line x1="1068.20" y1="500.50" x2="1374.60" y2="500.50" stroke="#dedede" stroke-width="1.00" stroke-dasharray="3,2"/>
<line x1="1068.20" y1="474.50" x2="1374.60" y2="474.50" stroke="#dedede" stroke-width="1.00" stroke-dasharray="3,2"/>
<line x1="1068.20" y1="447.50" x2="1374.60" y2="447.50" stroke="#dedede" stroke-width="1.00" stroke-dasharray="3,2"/>
<line x1="1068.20" y1="421.50" x2="1374.60" y2="421.50" stroke="#dedede" stroke-width="1.00" stroke-dasharray="3,2"/>
<line x1="1068.20" y1="395.50" x2="1374.60" y2="395.50" stroke="#dedede" stroke-width="1.00" stroke-dasharray="3,2"/>
<line x1="1092.50" y1="385.10" x2="1092.50" y2="655.20" stroke="#bcbcbc" stroke-width="1.00" stroke-dasharray="2,1"/>
<line x1="1117.50" y1="385.10" x2="1117.50" y2="655.20" stroke="#bcbcbc" stroke-width="1.00" stroke-dasharray="2,1"/>
<line x1="1143.50" y1="385.10" x2="1143.50" y2="655.20" stroke="#bcbcbc" stroke-width="1.00" stroke-dasharray="2,1"/>
<line x1="1169.50" y1="385.10" x2="1169.50" y2="655.20" stroke="#bcbcbc" stroke-width="1.00" stroke-dasharray="2,1"/>
<line x1="1195.50" y1="385.10" x2="1195.50" y2="655.20" stroke="#bcbcbc" stroke-width="1.00" stroke-dasharray="2,1"/>
<line x1="1221.50" y1="385.10" x2="1221.50" y2="655.20" stroke="#bcbcbc" stroke-width="1.00" stroke-dasharray="2,1"/>
<line x1="1247.50" y1="385.10" x2="1247.50" y2="655.20" stroke="#bcbcbc" stroke-width="1.00" stroke-dasharray="2,1"/>
<line x1="1273.50" y1="385.10" x2="1273.50" y2="655.20" stroke="#bcbcbc" stroke-width="1.00" stroke-dasharray="2,1"/>
<line x1="1299.50" y1="385.10" x2="1299.50" y2="655.20" stroke="#bcbcbc" stroke-width="1.00" stroke-dasharray="2,1"/>
<line x1="1324.50" y1="385.10" x2="1324.50" y2="655.20" stroke="#bcbcbc" stroke-width="1.00" stroke-dasharray="2,1"/>
<line x1="1350.50" y1="385.10" x2="1350.50" y2="655.20" stroke="#bcbcbc" stroke-width="1.00" stroke-dasharray="2,1"/>
<g clip-path="url(#clipF)">
<polyline points="1092.07,433.92 1117.94,434.69 1143.81,435.47 1169.68,436.24 1195.55,437.01 1221.42,437.77 1247.29,438.53 1273.16,439.29 1299.03,440.05 1324.90,440.80 1350.77,441.56" fill="none" stroke="#3aa6a6" stroke-width="1.15" stroke-linejoin="round"/>
<polyline points="1092.07,446.07 1117.94,445.81 1143.81,445.55 1169.68,445.29 1195.55,445.03 1221.42,444.77 1247.29,444.51 1273.16,444.25 1299.03,443.99 1324.90,443.73 1350.77,443.47" fill="none" stroke="#a6f24a" stroke-width="1.35" stroke-linejoin="round"/>
<polyline points="1092.07,457.70 1117.94,459.93 1143.81,462.13 1169.68,464.31 1195.55,466.46 1221.42,468.59 1247.29,470.69 1273.16,472.78 1299.03,474.83 1324.90,476.87 1350.77,478.88" fill="none" stroke="#ffa84a" stroke-width="1.15" stroke-linejoin="round"/>
<polyline points="1092.07,495.03 1117.94,497.82 1143.81,500.57 1169.68,503.27 1195.55,505.92 1221.42,508.52 1247.29,511.08 1273.16,513.60 1299.03,516.07 1324.90,518.50 1350.77,520.89" fill="none" stroke="#bccde6" stroke-width="1.10" stroke-linejoin="round"/>
<polyline points="1092.07,512.91 1117.94,516.15 1143.81,519.32 1169.68,522.42 1195.55,525.45 1221.42,528.41 1247.29,531.31 1273.16,534.14 1299.03,536.90 1324.90,539.60 1350.77,542.24" fill="none" stroke="#8fd4fb" stroke-width="1.10" stroke-linejoin="round"/>
<polyline points="1092.07,542.07 1169.68,556.48 1350.77,549.36" fill="none" stroke="#ffb08a" stroke-width="1.10" stroke-linejoin="round"/>
<polyline points="1092.07,568.11 1247.29,560.65 1350.77,584.26" fill="none" stroke="#5a4fa8" stroke-width="1.15" stroke-linejoin="round"/>
<polyline points="1092.07,582.35 1117.94,584.94 1143.81,587.45 1169.68,589.86 1195.55,592.20 1221.42,594.45 1247.29,596.62 1273.16,598.71 1299.03,600.73 1324.90,602.69 1350.77,604.57" fill="none" stroke="#3c3cb4" stroke-width="1.25" stroke-linejoin="round"/>
<polyline points="1092.07,605.78 1117.94,607.79 1143.81,609.72 1169.68,611.57 1195.55,613.35 1221.42,615.05 1247.29,616.69 1273.16,618.27 1299.03,619.78 1324.90,621.23 1350.77,622.62" fill="none" stroke="#d25555" stroke-width="1.10" stroke-linejoin="round"/>
<polyline points="1092.07,629.74 1117.94,629.94 1143.81,630.13 1169.68,630.33 1195.55,630.52 1221.42,630.71 1247.29,630.90 1273.16,631.09 1299.03,631.28 1324.90,631.46 1350.77,631.65" fill="none" stroke="#ff6a3d" stroke-width="1.15" stroke-linejoin="round"/>
<polyline points="1092.07,636.86 1117.94,638.59 1143.81,640.17 1169.68,641.61 1195.55,642.92 1221.42,644.11 1247.29,645.20 1273.16,646.19 1299.03,647.09 1324.90,647.91 1350.77,648.66" fill="none" stroke="#b01c1c" stroke-width="1.10" stroke-linejoin="round"/>
<polyline points="1092.07,648.49 1117.94,649.17 1143.81,649.80 1169.68,650.37 1195.55,650.89 1221.42,651.36 1247.29,651.79 1273.16,652.19 1299.03,652.55 1324.90,652.88 1350.77,653.18" fill="none" stroke="#ffd700" stroke-width="1.35" stroke-linejoin="round"/>
<polyline points="1092.07,654.56 1117.94,654.65 1143.81,654.73 1169.68,654.81 1195.55,654.88 1221.42,654.96 1247.29,655.02 1273.16,655.09 1299.03,655.15 1324.90,655.20 1350.77,655.26" fill="none" stroke="#4a8ed0" stroke-width="2.20" stroke-linejoin="round"/>
<polyline points="1092.07,655.78 1117.94,655.78 1143.81,655.78 1169.68,655.78 1195.55,655.78 1221.42,655.78 1247.29,655.78 1273.16,655.78 1299.03,655.78 1324.90,655.78 1350.77,655.78" fill="none" stroke="#1a1aff" stroke-width="2.20" stroke-linejoin="round"/>
<rect x="1090.07" y="432.09" width="4.00" height="4.00" fill="#008b8b"/>
<rect x="1115.94" y="451.19" width="4.00" height="4.00" fill="#008b8b"/>
<rect x="1141.81" y="421.68" width="4.00" height="4.00" fill="#008b8b"/>
<rect x="1167.68" y="456.40" width="4.00" height="4.00" fill="#008b8b"/>
<rect x="1193.55" y="426.88" width="4.00" height="4.00" fill="#008b8b"/>
<rect x="1219.42" y="411.09" width="4.00" height="4.00" fill="#008b8b"/>
<rect x="1245.29" y="422.37" width="4.00" height="4.00" fill="#008b8b"/>
<rect x="1271.16" y="420.81" width="4.00" height="4.00" fill="#008b8b"/>
<rect x="1297.03" y="444.24" width="4.00" height="4.00" fill="#008b8b"/>
<rect x="1322.90" y="439.90" width="4.00" height="4.00" fill="#008b8b"/>
<rect x="1348.77" y="459.35" width="4.00" height="4.00" fill="#008b8b"/>
<circle cx="1092.07" cy="480.44" r="1.50" fill="#ff8c00"/>
<circle cx="1117.94" cy="475.76" r="1.50" fill="#ff8c00"/>
<circle cx="1143.81" cy="438.43" r="1.50" fill="#ff8c00"/>
<circle cx="1169.68" cy="481.14" r="1.50" fill="#ff8c00"/>
<circle cx="1195.55" cy="441.73" r="1.50" fill="#ff8c00"/>
<circle cx="1221.42" cy="427.84" r="1.50" fill="#ff8c00"/>
<circle cx="1247.29" cy="464.82" r="1.50" fill="#ff8c00"/>
<circle cx="1273.16" cy="467.77" r="1.50" fill="#ff8c00"/>
<circle cx="1299.03" cy="488.08" r="1.50" fill="#ff8c00"/>
<circle cx="1324.90" cy="490.86" r="1.50" fill="#ff8c00"/>
<circle cx="1350.77" cy="484.78" r="1.50" fill="#ff8c00"/>
<circle cx="1092.07" cy="461.87" r="1.50" fill="#7cfc00"/>
<circle cx="1117.94" cy="452.32" r="1.50" fill="#7cfc00"/>
<circle cx="1143.81" cy="446.24" r="1.50" fill="#7cfc00"/>
<circle cx="1169.68" cy="408.75" r="1.50" fill="#7cfc00"/>
<circle cx="1195.55" cy="410.83" r="1.50" fill="#7cfc00"/>
<circle cx="1221.42" cy="450.58" r="1.50" fill="#7cfc00"/>
<circle cx="1247.29" cy="476.97" r="1.50" fill="#7cfc00"/>
<circle cx="1273.16" cy="432.70" r="1.50" fill="#7cfc00"/>
<circle cx="1299.03" cy="462.91" r="1.50" fill="#7cfc00"/>
<circle cx="1324.90" cy="436.00" r="1.50" fill="#7cfc00"/>
<circle cx="1350.77" cy="438.95" r="1.50" fill="#7cfc00"/>
<path d="M1092.07 513.52L1093.60 517.03L1090.54 517.03Z" fill="#b0c4de"/>
<path d="M1117.94 501.37L1119.47 504.88L1116.41 504.88Z" fill="#b0c4de"/>
<path d="M1143.81 498.94L1145.34 502.45L1142.28 502.45Z" fill="#b0c4de"/>
<path d="M1169.68 498.42L1171.21 501.93L1168.15 501.93Z" fill="#b0c4de"/>
<path d="M1195.55 495.12L1197.08 498.63L1194.02 498.63Z" fill="#b0c4de"/>
<path d="M1221.42 527.59L1222.95 531.10L1219.89 531.10Z" fill="#b0c4de"/>
<path d="M1247.29 503.11L1248.82 506.62L1245.76 506.62Z" fill="#b0c4de"/>
<path d="M1273.16 499.64L1274.69 503.15L1271.63 503.15Z" fill="#b0c4de"/>
<path d="M1299.03 507.45L1300.56 510.96L1297.50 510.96Z" fill="#b0c4de"/>
<path d="M1324.90 527.41L1326.43 530.92L1323.37 530.92Z" fill="#b0c4de"/>
<path d="M1350.77 520.64L1352.30 524.15L1349.24 524.15Z" fill="#b0c4de"/>
<circle cx="1092.07" cy="503.71" r="2.10" fill="#87cefa"/>
<circle cx="1117.94" cy="526.97" r="2.10" fill="#87cefa"/>
<circle cx="1143.81" cy="517.94" r="2.10" fill="#87cefa"/>
<circle cx="1169.68" cy="518.64" r="2.10" fill="#87cefa"/>
<circle cx="1195.55" cy="539.12" r="2.10" fill="#87cefa"/>
<circle cx="1221.42" cy="517.59" r="2.10" fill="#87cefa"/>
<circle cx="1247.29" cy="540.16" r="2.10" fill="#87cefa"/>
<circle cx="1273.16" cy="520.89" r="2.10" fill="#87cefa"/>
<circle cx="1299.03" cy="531.31" r="2.10" fill="#87cefa"/>
<circle cx="1324.90" cy="544.50" r="2.10" fill="#87cefa"/>
<circle cx="1350.77" cy="546.93" r="2.10" fill="#87cefa"/>
<circle cx="1092.07" cy="540.16" r="1.40" fill="#ffa07a"/>
<circle cx="1117.94" cy="551.62" r="1.40" fill="#ffa07a"/>
<circle cx="1143.81" cy="549.02" r="1.40" fill="#ffa07a"/>
<circle cx="1169.68" cy="558.39" r="1.40" fill="#ffa07a"/>
<circle cx="1195.55" cy="553.01" r="1.40" fill="#ffa07a"/>
<circle cx="1221.42" cy="551.62" r="1.40" fill="#ffa07a"/>
<circle cx="1247.29" cy="555.09" r="1.40" fill="#ffa07a"/>
<circle cx="1273.16" cy="550.75" r="1.40" fill="#ffa07a"/>
<circle cx="1299.03" cy="553.36" r="1.40" fill="#ffa07a"/>
<circle cx="1324.90" cy="551.97" r="1.40" fill="#ffa07a"/>
<circle cx="1350.77" cy="548.67" r="1.40" fill="#ffa07a"/>
<rect x="1089.77" y="566.33" width="4.60" height="4.60" fill="#302a78"/>
<rect x="1115.64" y="564.25" width="4.60" height="4.60" fill="#302a78"/>
<rect x="1141.51" y="561.30" width="4.60" height="4.60" fill="#302a78"/>
<rect x="1167.38" y="565.46" width="4.60" height="4.60" fill="#302a78"/>
<rect x="1193.25" y="558.69" width="4.60" height="4.60" fill="#302a78"/>
<rect x="1219.12" y="561.30" width="4.60" height="4.60" fill="#302a78"/>
<rect x="1244.99" y="552.27" width="4.60" height="4.60" fill="#302a78"/>
<rect x="1270.86" y="565.81" width="4.60" height="4.60" fill="#302a78"/>
<rect x="1296.73" y="576.92" width="4.60" height="4.60" fill="#302a78"/>
<rect x="1322.60" y="580.91" width="4.60" height="4.60" fill="#302a78"/>
<rect x="1348.47" y="574.84" width="4.60" height="4.60" fill="#302a78"/>
<circle cx="1092.07" cy="579.22" r="1.50" fill="#00008b"/>
<circle cx="1117.94" cy="582.52" r="1.50" fill="#00008b"/>
<circle cx="1143.81" cy="587.73" r="1.50" fill="#00008b"/>
<circle cx="1169.68" cy="589.81" r="1.50" fill="#00008b"/>
<circle cx="1195.55" cy="597.45" r="1.50" fill="#00008b"/>
<circle cx="1221.42" cy="595.02" r="1.50" fill="#00008b"/>
<circle cx="1247.29" cy="599.36" r="1.50" fill="#00008b"/>
<circle cx="1273.16" cy="600.05" r="1.50" fill="#00008b"/>
<circle cx="1299.03" cy="592.24" r="1.50" fill="#00008b"/>
<circle cx="1324.90" cy="604.22" r="1.50" fill="#00008b"/>
<circle cx="1350.77" cy="604.22" r="1.50" fill="#00008b"/>
<circle cx="1092.07" cy="605.78" r="1.60" fill="#cd5c5c"/>
<circle cx="1117.94" cy="604.39" r="1.60" fill="#cd5c5c"/>
<circle cx="1143.81" cy="608.73" r="1.60" fill="#cd5c5c"/>
<circle cx="1169.68" cy="614.64" r="1.60" fill="#cd5c5c"/>
<circle cx="1195.55" cy="611.51" r="1.60" fill="#cd5c5c"/>
<circle cx="1221.42" cy="614.46" r="1.60" fill="#cd5c5c"/>
<circle cx="1247.29" cy="618.80" r="1.60" fill="#cd5c5c"/>
<circle cx="1273.16" cy="621.23" r="1.60" fill="#cd5c5c"/>
<circle cx="1299.03" cy="619.50" r="1.60" fill="#cd5c5c"/>
<circle cx="1324.90" cy="615.50" r="1.60" fill="#cd5c5c"/>
<circle cx="1350.77" cy="622.62" r="1.60" fill="#cd5c5c"/>
<circle cx="1092.07" cy="628.00" r="1.50" fill="#ff4f1f"/>
<circle cx="1117.94" cy="634.60" r="1.50" fill="#ff4f1f"/>
<circle cx="1143.81" cy="626.44" r="1.50" fill="#ff4f1f"/>
<circle cx="1169.68" cy="629.57" r="1.50" fill="#ff4f1f"/>
<circle cx="1195.55" cy="630.95" r="1.50" fill="#ff4f1f"/>
<circle cx="1221.42" cy="631.30" r="1.50" fill="#ff4f1f"/>
<circle cx="1247.29" cy="629.22" r="1.50" fill="#ff4f1f"/>
<circle cx="1273.16" cy="629.22" r="1.50" fill="#ff4f1f"/>
<circle cx="1299.03" cy="632.17" r="1.50" fill="#ff4f1f"/>
<circle cx="1324.90" cy="631.30" r="1.50" fill="#ff4f1f"/>
<circle cx="1350.77" cy="631.48" r="1.50" fill="#ff4f1f"/>
<rect x="1090.27" y="636.27" width="3.60" height="3.60" fill="#b01c1c"/>
<rect x="1116.14" y="636.62" width="3.60" height="3.60" fill="#b01c1c"/>
<rect x="1142.01" y="641.48" width="3.60" height="3.60" fill="#b01c1c"/>
<rect x="1167.88" y="636.62" width="3.60" height="3.60" fill="#b01c1c"/>
<rect x="1193.75" y="639.22" width="3.60" height="3.60" fill="#b01c1c"/>
<rect x="1219.62" y="641.83" width="3.60" height="3.60" fill="#b01c1c"/>
<rect x="1245.49" y="641.83" width="3.60" height="3.60" fill="#b01c1c"/>
<rect x="1271.36" y="645.13" width="3.60" height="3.60" fill="#b01c1c"/>
<rect x="1297.23" y="644.60" width="3.60" height="3.60" fill="#b01c1c"/>
<rect x="1323.10" y="647.21" width="3.60" height="3.60" fill="#b01c1c"/>
<rect x="1348.97" y="646.69" width="3.60" height="3.60" fill="#b01c1c"/>
<circle cx="1092.07" cy="646.93" r="1.50" fill="#ffd700"/>
<circle cx="1117.94" cy="646.93" r="1.50" fill="#ffd700"/>
<circle cx="1143.81" cy="651.44" r="1.50" fill="#ffd700"/>
<circle cx="1169.68" cy="651.09" r="1.50" fill="#ffd700"/>
<circle cx="1195.55" cy="651.61" r="1.50" fill="#ffd700"/>
<circle cx="1221.42" cy="651.96" r="1.50" fill="#ffd700"/>
<circle cx="1247.29" cy="651.96" r="1.50" fill="#ffd700"/>
<circle cx="1273.16" cy="649.88" r="1.50" fill="#ffd700"/>
<circle cx="1299.03" cy="651.96" r="1.50" fill="#ffd700"/>
<circle cx="1324.90" cy="653.18" r="1.50" fill="#ffd700"/>
<circle cx="1350.77" cy="653.18" r="1.50" fill="#ffd700"/>
<path d="M1092.07 652.00L1093.51 655.32L1090.62 655.32Z" fill="#4682b4"/>
<path d="M1117.94 652.00L1119.38 655.32L1116.50 655.32Z" fill="#4682b4"/>
<path d="M1143.81 652.18L1145.25 655.49L1142.37 655.49Z" fill="#4682b4"/>
<path d="M1169.68 652.35L1171.12 655.67L1168.24 655.67Z" fill="#4682b4"/>
<path d="M1195.55 652.52L1196.99 655.84L1194.11 655.84Z" fill="#4682b4"/>
<path d="M1221.42 652.70L1222.87 656.01L1219.98 656.01Z" fill="#4682b4"/>
<path d="M1247.29 652.70L1248.73 656.01L1245.85 656.01Z" fill="#4682b4"/>
<path d="M1273.16 652.70L1274.61 656.01L1271.72 656.01Z" fill="#4682b4"/>
<path d="M1299.03 652.87L1300.47 656.19L1297.59 656.19Z" fill="#4682b4"/>
<path d="M1324.90 653.04L1326.35 656.36L1323.46 656.36Z" fill="#4682b4"/>
<path d="M1350.77 653.04L1352.21 656.36L1349.33 656.36Z" fill="#4682b4"/>
<circle cx="1092.07" cy="655.78" r="2.10" fill="#0000ff"/>
<circle cx="1117.94" cy="655.78" r="2.10" fill="#0000ff"/>
<circle cx="1143.81" cy="655.78" r="2.10" fill="#0000ff"/>
<circle cx="1169.68" cy="655.78" r="2.10" fill="#0000ff"/>
<circle cx="1195.55" cy="655.78" r="2.10" fill="#0000ff"/>
<circle cx="1221.42" cy="655.78" r="2.10" fill="#0000ff"/>
<circle cx="1247.29" cy="655.78" r="2.10" fill="#0000ff"/>
<circle cx="1273.16" cy="655.78" r="2.10" fill="#0000ff"/>
<circle cx="1299.03" cy="655.78" r="2.10" fill="#0000ff"/>
<circle cx="1324.90" cy="655.78" r="2.10" fill="#0000ff"/>
<circle cx="1350.77" cy="655.78" r="2.10" fill="#0000ff"/>
</g>
<rect x="1066.20" y="382.10" width="310.40" height="274.10" fill="none" stroke="#3c3c3c" stroke-width="1.90"/>
<text x="1064.70" y="659.18" font-size="8.00" text-anchor="end" fill="#1a1a1a" textLength="15.26" lengthAdjust="spacingAndGlyphs" stroke="#1a1a1a" stroke-width="0.15">0.00</text>
<text x="1064.70" y="633.14" font-size="8.00" text-anchor="end" fill="#1a1a1a" textLength="19.62" lengthAdjust="spacingAndGlyphs" stroke="#1a1a1a" stroke-width="0.15">15.00</text>
<text x="1064.70" y="607.10" font-size="8.00" text-anchor="end" fill="#1a1a1a" textLength="19.62" lengthAdjust="spacingAndGlyphs" stroke="#1a1a1a" stroke-width="0.15">30.00</text>
<text x="1064.70" y="581.06" font-size="8.00" text-anchor="end" fill="#1a1a1a" textLength="19.62" lengthAdjust="spacingAndGlyphs" stroke="#1a1a1a" stroke-width="0.15">45.00</text>
<text x="1064.70" y="555.02" font-size="8.00" text-anchor="end" fill="#1a1a1a" textLength="19.62" lengthAdjust="spacingAndGlyphs" stroke="#1a1a1a" stroke-width="0.15">60.00</text>
<text x="1064.70" y="528.98" font-size="8.00" text-anchor="end" fill="#1a1a1a" textLength="19.62" lengthAdjust="spacingAndGlyphs" stroke="#1a1a1a" stroke-width="0.15">75.00</text>
<text x="1064.70" y="502.94" font-size="8.00" text-anchor="end" fill="#1a1a1a" textLength="19.62" lengthAdjust="spacingAndGlyphs" stroke="#1a1a1a" stroke-width="0.15">90.00</text>
<text x="1064.70" y="476.90" font-size="8.00" text-anchor="end" fill="#1a1a1a" textLength="23.98" lengthAdjust="spacingAndGlyphs" stroke="#1a1a1a" stroke-width="0.15">105.00</text>
<text x="1064.70" y="450.86" font-size="8.00" text-anchor="end" fill="#1a1a1a" textLength="23.98" lengthAdjust="spacingAndGlyphs" stroke="#1a1a1a" stroke-width="0.15">120.00</text>
<text x="1064.70" y="424.82" font-size="8.00" text-anchor="end" fill="#1a1a1a" textLength="23.98" lengthAdjust="spacingAndGlyphs" stroke="#1a1a1a" stroke-width="0.15">135.00</text>
<text x="1064.70" y="398.78" font-size="8.00" text-anchor="end" fill="#1a1a1a" textLength="23.98" lengthAdjust="spacingAndGlyphs" stroke="#1a1a1a" stroke-width="0.15">150.00</text>
<text x="1066.20" y="667.90" font-size="8.00" text-anchor="middle" fill="#1a1a1a" textLength="14.24" lengthAdjust="spacingAndGlyphs" stroke="#1a1a1a" stroke-width="0.15">2009</text>
<text x="1092.07" y="667.90" font-size="8.00" text-anchor="middle" fill="#1a1a1a" textLength="14.24" lengthAdjust="spacingAndGlyphs" stroke="#1a1a1a" stroke-width="0.15">2010</text>
<text x="1117.94" y="667.90" font-size="8.00" text-anchor="middle" fill="#1a1a1a" textLength="13.76" lengthAdjust="spacingAndGlyphs" stroke="#1a1a1a" stroke-width="0.15">2011</text>
<text x="1143.81" y="667.90" font-size="8.00" text-anchor="middle" fill="#1a1a1a" textLength="14.24" lengthAdjust="spacingAndGlyphs" stroke="#1a1a1a" stroke-width="0.15">2012</text>
<text x="1169.68" y="667.90" font-size="8.00" text-anchor="middle" fill="#1a1a1a" textLength="14.24" lengthAdjust="spacingAndGlyphs" stroke="#1a1a1a" stroke-width="0.15">2013</text>
<text x="1195.55" y="667.90" font-size="8.00" text-anchor="middle" fill="#1a1a1a" textLength="14.24" lengthAdjust="spacingAndGlyphs" stroke="#1a1a1a" stroke-width="0.15">2014</text>
<text x="1221.42" y="667.90" font-size="8.00" text-anchor="middle" fill="#1a1a1a" textLength="14.24" lengthAdjust="spacingAndGlyphs" stroke="#1a1a1a" stroke-width="0.15">2015</text>
<text x="1247.29" y="667.90" font-size="8.00" text-anchor="middle" fill="#1a1a1a" textLength="14.24" lengthAdjust="spacingAndGlyphs" stroke="#1a1a1a" stroke-width="0.15">2016</text>
<text x="1273.16" y="667.90" font-size="8.00" text-anchor="middle" fill="#1a1a1a" textLength="14.24" lengthAdjust="spacingAndGlyphs" stroke="#1a1a1a" stroke-width="0.15">2017</text>
<text x="1299.03" y="667.90" font-size="8.00" text-anchor="middle" fill="#1a1a1a" textLength="14.24" lengthAdjust="spacingAndGlyphs" stroke="#1a1a1a" stroke-width="0.15">2018</text>
<text x="1324.90" y="667.90" font-size="8.00" text-anchor="middle" fill="#1a1a1a" textLength="14.24" lengthAdjust="spacingAndGlyphs" stroke="#1a1a1a" stroke-width="0.15">2019</text>
<text x="1350.77" y="667.90" font-size="8.00" text-anchor="middle" fill="#1a1a1a" textLength="14.24" lengthAdjust="spacingAndGlyphs" stroke="#1a1a1a" stroke-width="0.15">2020</text>
<text x="1376.64" y="667.90" font-size="8.00" text-anchor="middle" fill="#1a1a1a" textLength="14.24" lengthAdjust="spacingAndGlyphs" stroke="#1a1a1a" stroke-width="0.15">2021</text>
<text x="1220.80" y="684.30" font-size="9.30" font-weight="bold" text-anchor="middle" fill="#111" textLength="20.20" lengthAdjust="spacingAndGlyphs">Year</text>
<text x="0.00" y="0.00" font-size="8.30" font-weight="bold" text-anchor="middle" fill="#111" textLength="124.00" lengthAdjust="spacingAndGlyphs" transform="translate(1024.70,518.00) rotate(-90)">Age-standardized mortality</text>
<rect x="1401.90" y="390.40" width="126.10" height="289.70" fill="#fff" stroke="#5a5a5a" stroke-width="1.2"/>
<circle cx="1414.60" cy="398.40" r="1.60" fill="#0000ff"/>
<text x="1425.00" y="402.50" font-size="8.30" text-anchor="start" fill="#111" textLength="81.20" lengthAdjust="spacingAndGlyphs" style="white-space:pre" stroke="#111" stroke-width="0.22">20-24years - 0 Joinpoints</text>
<line x1="1407.70" y1="410.85" x2="1422.20" y2="410.85" stroke="#1a1aff" stroke-width="1.60"/>
<text x="1425.00" y="413.75" font-size="8.30" text-anchor="start" fill="#111" textLength="77.40" lengthAdjust="spacingAndGlyphs" style="white-space:pre" stroke="#111" stroke-width="0.22">2010-2020 APC  =  0.78</text>
<circle cx="1414.60" cy="420.90" r="1.30" fill="#4682b4"/>
<text x="1425.00" y="425.00" font-size="8.30" text-anchor="start" fill="#111" textLength="81.20" lengthAdjust="spacingAndGlyphs" style="white-space:pre" stroke="#111" stroke-width="0.22">25-29years - 0 Joinpoints</text>
<line x1="1407.70" y1="433.35" x2="1422.20" y2="433.35" stroke="#4a8ed0" stroke-width="1.60"/>
<text x="1425.00" y="436.25" font-size="8.30" text-anchor="start" fill="#111" textLength="77.80" lengthAdjust="spacingAndGlyphs" style="white-space:pre" stroke="#111" stroke-width="0.22">2010-2020 APC  = -7.16</text>
<circle cx="1414.60" cy="443.40" r="1.30" fill="#ffd700"/>
<text x="1425.00" y="447.50" font-size="8.30" text-anchor="start" fill="#111" textLength="81.20" lengthAdjust="spacingAndGlyphs" style="white-space:pre" stroke="#111" stroke-width="0.22">30-34years - 0 Joinpoints</text>
<line x1="1407.70" y1="455.85" x2="1422.20" y2="455.85" stroke="#ffd700" stroke-width="1.60"/>
<text x="1425.00" y="458.75" font-size="8.30" text-anchor="start" fill="#111" textLength="80.61" lengthAdjust="spacingAndGlyphs" style="white-space:pre" stroke="#111" stroke-width="0.22">2010-2020 APC  = -8.70*</text>
<rect x="1413.30" y="464.60" width="2.60" height="2.60" fill="#b01c1c"/>
<text x="1425.00" y="470.00" font-size="8.30" text-anchor="start" fill="#111" textLength="81.20" lengthAdjust="spacingAndGlyphs" style="white-space:pre" stroke="#111" stroke-width="0.22">35-39years - 0 Joinpoints</text>
<line x1="1407.70" y1="478.35" x2="1422.20" y2="478.35" stroke="#b01c1c" stroke-width="1.60"/>
<text x="1425.00" y="481.25" font-size="8.30" text-anchor="start" fill="#111" textLength="80.61" lengthAdjust="spacingAndGlyphs" style="white-space:pre" stroke="#111" stroke-width="0.22">2010-2020 APC  = -8.84*</text>
<circle cx="1414.60" cy="488.40" r="1.30" fill="#ff4f1f"/>
<text x="1425.00" y="492.50" font-size="8.30" text-anchor="start" fill="#111" textLength="81.20" lengthAdjust="spacingAndGlyphs" style="white-space:pre" stroke="#111" stroke-width="0.22">40-44years - 0 Joinpoints</text>
<line x1="1407.70" y1="500.85" x2="1422.20" y2="500.85" stroke="#ff6a3d" stroke-width="1.60"/>
<text x="1425.00" y="503.75" font-size="8.30" text-anchor="start" fill="#111" textLength="77.80" lengthAdjust="spacingAndGlyphs" style="white-space:pre" stroke="#111" stroke-width="0.22">2010-2020 APC  = -0.65</text>
<circle cx="1414.60" cy="510.90" r="1.30" fill="#cd5c5c"/>
<text x="1425.00" y="515.00" font-size="8.30" text-anchor="start" fill="#111" textLength="81.20" lengthAdjust="spacingAndGlyphs" style="white-space:pre" stroke="#111" stroke-width="0.22">45-49years - 0 Joinpoints</text>
<line x1="1407.70" y1="523.35" x2="1422.20" y2="523.35" stroke="#d25555" stroke-width="1.60"/>
<text x="1425.00" y="526.25" font-size="8.30" text-anchor="start" fill="#111" textLength="80.61" lengthAdjust="spacingAndGlyphs" style="white-space:pre" stroke="#111" stroke-width="0.22">2010-2020 APC  = -3.80*</text>
<circle cx="1414.60" cy="533.40" r="1.30" fill="#00008b"/>
<text x="1425.00" y="537.50" font-size="8.30" text-anchor="start" fill="#111" textLength="81.20" lengthAdjust="spacingAndGlyphs" style="white-space:pre" stroke="#111" stroke-width="0.22">50-54years - 0 Joinpoints</text>
<line x1="1407.70" y1="545.85" x2="1422.20" y2="545.85" stroke="#000080" stroke-width="1.80"/>
<text x="1425.00" y="548.75" font-size="8.30" text-anchor="start" fill="#111" textLength="80.61" lengthAdjust="spacingAndGlyphs" style="white-space:pre" stroke="#111" stroke-width="0.22">2010-2020 APC  = -3.56*</text>
<rect x="1413.00" y="554.30" width="3.20" height="3.20" fill="#302a78"/>
<text x="1425.00" y="560.00" font-size="8.30" text-anchor="start" fill="#111" textLength="77.58" lengthAdjust="spacingAndGlyphs" style="white-space:pre" stroke="#111" stroke-width="0.22">55-59years - 1 Joinpoint</text>
<line x1="1407.70" y1="568.35" x2="1422.20" y2="568.35" stroke="#5a4fa8" stroke-width="1.60"/>
<text x="1425.00" y="571.25" font-size="8.30" text-anchor="start" fill="#111" textLength="77.40" lengthAdjust="spacingAndGlyphs" style="white-space:pre" stroke="#111" stroke-width="0.22">2010-2016 APC  =  1.31</text>
<line x1="1407.70" y1="579.60" x2="1422.20" y2="579.60" stroke="#4a4a9a" stroke-width="1.60"/>
<text x="1425.00" y="582.50" font-size="8.30" text-anchor="start" fill="#111" textLength="80.61" lengthAdjust="spacingAndGlyphs" style="white-space:pre" stroke="#111" stroke-width="0.22">2016-2020 APC  = -6.65*</text>
<circle cx="1414.60" cy="589.65" r="1.30" fill="#ffa07a"/>
<text x="1425.00" y="593.75" font-size="8.30" text-anchor="start" fill="#111" textLength="77.58" lengthAdjust="spacingAndGlyphs" style="white-space:pre" stroke="#111" stroke-width="0.22">60-64years - 1 Joinpoint</text>
<line x1="1407.70" y1="602.10" x2="1422.20" y2="602.10" stroke="#ffb08a" stroke-width="1.60"/>
<text x="1425.00" y="605.00" font-size="8.30" text-anchor="start" fill="#111" textLength="77.80" lengthAdjust="spacingAndGlyphs" style="white-space:pre" stroke="#111" stroke-width="0.22">2010-2013 APC  = -4.25</text>
<line x1="1407.70" y1="613.35" x2="1422.20" y2="613.35" stroke="#ffb08a" stroke-width="1.60"/>
<text x="1425.00" y="616.25" font-size="8.30" text-anchor="start" fill="#111" textLength="77.40" lengthAdjust="spacingAndGlyphs" style="white-space:pre" stroke="#111" stroke-width="0.22">2013-2020 APC  =  0.92</text>
<circle cx="1414.60" cy="623.40" r="1.50" fill="#87cefa"/>
<text x="1425.00" y="627.50" font-size="8.30" text-anchor="start" fill="#111" textLength="81.20" lengthAdjust="spacingAndGlyphs" style="white-space:pre" stroke="#111" stroke-width="0.22">65-69years - 0 Joinpoints</text>
<line x1="1407.70" y1="635.85" x2="1422.20" y2="635.85" stroke="#8fd4fb" stroke-width="1.60"/>
<text x="1425.00" y="638.75" font-size="8.30" text-anchor="start" fill="#111" textLength="80.61" lengthAdjust="spacingAndGlyphs" style="white-space:pre" stroke="#111" stroke-width="0.22">2010-2020 APC  = -2.31*</text>
<path d="M1414.60 644.22L1415.79 646.95L1413.41 646.95Z" fill="#b0c4de"/>
<text x="1425.00" y="650.00" font-size="8.30" text-anchor="start" fill="#111" textLength="81.20" lengthAdjust="spacingAndGlyphs" style="white-space:pre" stroke="#111" stroke-width="0.22">70-74years - 0 Joinpoints</text>
<line x1="1407.70" y1="658.35" x2="1422.20" y2="658.35" stroke="#bccde6" stroke-width="1.60"/>
<text x="1425.00" y="661.25" font-size="8.30" text-anchor="start" fill="#111" textLength="77.80" lengthAdjust="spacingAndGlyphs" style="white-space:pre" stroke="#111" stroke-width="0.22">2010-2020 APC  = -1.70</text>
<circle cx="1414.60" cy="668.40" r="1.30" fill="#ff8c00"/>
<text x="1425.00" y="672.50" font-size="8.30" text-anchor="start" fill="#111" textLength="81.20" lengthAdjust="spacingAndGlyphs" style="white-space:pre" stroke="#111" stroke-width="0.22">75-79years - 0 Joinpoints</text>
<rect x="1460.80" y="677.00" width="1.6" height="1.6" fill="#111"/>
<rect x="1464.40" y="677.00" width="1.6" height="1.6" fill="#111"/>
<rect x="1468.00" y="677.00" width="1.6" height="1.6" fill="#111"/>
</svg>
</body></html>
